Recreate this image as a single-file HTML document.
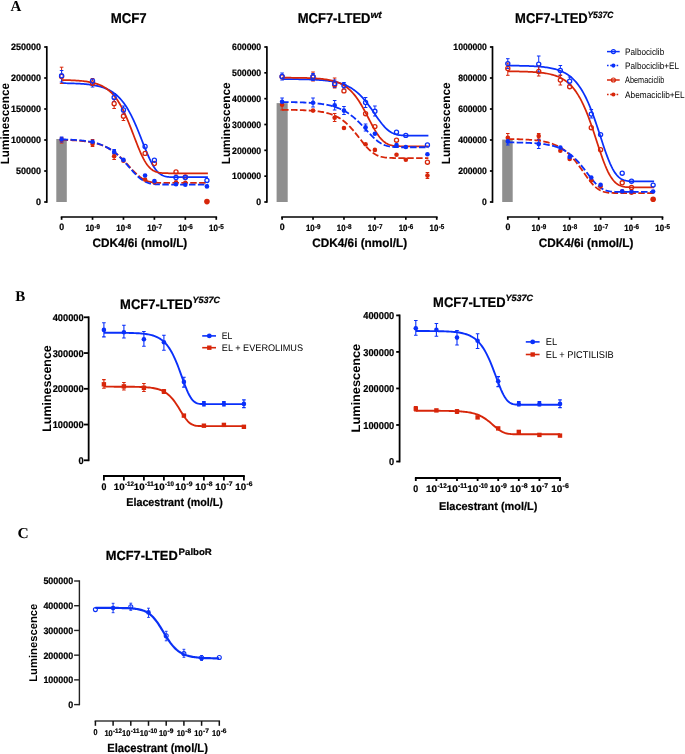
<!DOCTYPE html>
<html><head><meta charset="utf-8"><style>
html,body{margin:0;padding:0;background:#fff;}
body{width:685px;height:754px;overflow:hidden;font-family:"Liberation Sans",sans-serif;}
svg{display:block;will-change:transform;}
</style></head><body>
<svg width="685" height="754" viewBox="0 0 685 754" text-rendering="geometricPrecision">
<rect width="685" height="754" fill="#fff"/>
<text x="10.6" y="11.2" font-size="15" font-weight="bold" font-family='"Liberation Serif", serif' text-anchor="start" fill="#000">A</text>
<text x="15.3" y="301.2" font-size="15" font-weight="bold" font-family='"Liberation Serif", serif' text-anchor="start" fill="#000">B</text>
<text x="17.6" y="538" font-size="15" font-weight="bold" font-family='"Liberation Serif", serif' text-anchor="start" fill="#000" textLength="11.2" lengthAdjust="spacingAndGlyphs">C</text>
<text x="110.7" y="23.2" font-size="14.2" font-weight="bold" font-family='"Liberation Sans", sans-serif' text-anchor="start" fill="#000" textLength="36" lengthAdjust="spacingAndGlyphs" stroke="#000" stroke-width="0.22">MCF7</text>
<text x="297.7" y="23.3" font-size="14.2" font-weight="bold" font-family='"Liberation Sans", sans-serif' text-anchor="start" fill="#000" textLength="72.8" lengthAdjust="spacingAndGlyphs" stroke="#000" stroke-width="0.22">MCF7-LTED</text>
<text x="370.4" y="17.6" font-size="9.6" font-weight="bold" font-family='"Liberation Sans", sans-serif' text-anchor="start" fill="#000" textLength="11.4" lengthAdjust="spacingAndGlyphs" font-style="italic" stroke="#000" stroke-width="0.22">wt</text>
<text x="515.1" y="23.3" font-size="14.2" font-weight="bold" font-family='"Liberation Sans", sans-serif' text-anchor="start" fill="#000" textLength="72.6" lengthAdjust="spacingAndGlyphs" stroke="#000" stroke-width="0.22">MCF7-LTED</text>
<text x="587.4" y="17.7" font-size="9.2" font-weight="bold" font-family='"Liberation Sans", sans-serif' text-anchor="start" fill="#000" textLength="25.9" lengthAdjust="spacingAndGlyphs" font-style="italic" stroke="#000" stroke-width="0.22">Y537C</text>
<rect x="56.3" y="139" width="10.5" height="63" fill="#8f8f8f"/>
<path d="M46.8 46.15V202.85" stroke="#000" stroke-width="1.7" fill="none"/>
<path d="M44.2 202H46.8" stroke="#000" stroke-width="1.7"/>
<text x="41.1" y="205.31" font-size="9.2" font-weight="bold" font-family='"Liberation Sans", sans-serif' text-anchor="end" fill="#000" textLength="5" lengthAdjust="spacingAndGlyphs" stroke="#000" stroke-width="0.22">0</text>
<path d="M44.2 171H46.8" stroke="#000" stroke-width="1.7"/>
<text x="41.1" y="174.31" font-size="9.2" font-weight="bold" font-family='"Liberation Sans", sans-serif' text-anchor="end" fill="#000" textLength="25" lengthAdjust="spacingAndGlyphs" stroke="#000" stroke-width="0.22">50000</text>
<path d="M44.2 140H46.8" stroke="#000" stroke-width="1.7"/>
<text x="41.1" y="143.31" font-size="9.2" font-weight="bold" font-family='"Liberation Sans", sans-serif' text-anchor="end" fill="#000" textLength="30" lengthAdjust="spacingAndGlyphs" stroke="#000" stroke-width="0.22">100000</text>
<path d="M44.2 109H46.8" stroke="#000" stroke-width="1.7"/>
<text x="41.1" y="112.31" font-size="9.2" font-weight="bold" font-family='"Liberation Sans", sans-serif' text-anchor="end" fill="#000" textLength="30" lengthAdjust="spacingAndGlyphs" stroke="#000" stroke-width="0.22">150000</text>
<path d="M44.2 78H46.8" stroke="#000" stroke-width="1.7"/>
<text x="41.1" y="81.31" font-size="9.2" font-weight="bold" font-family='"Liberation Sans", sans-serif' text-anchor="end" fill="#000" textLength="30" lengthAdjust="spacingAndGlyphs" stroke="#000" stroke-width="0.22">200000</text>
<path d="M44.2 47H46.8" stroke="#000" stroke-width="1.7"/>
<text x="41.1" y="50.31" font-size="9.2" font-weight="bold" font-family='"Liberation Sans", sans-serif' text-anchor="end" fill="#000" textLength="30" lengthAdjust="spacingAndGlyphs" stroke="#000" stroke-width="0.22">250000</text>
<path d="M60.75 217H217.1" stroke="#000" stroke-width="1.7" fill="none"/>
<path d="M61.6 217V219.8" stroke="#000" stroke-width="1.7"/>
<path d="M92.53 217V219.8" stroke="#000" stroke-width="1.7"/>
<path d="M123.46 217V219.8" stroke="#000" stroke-width="1.7"/>
<path d="M154.39 217V219.8" stroke="#000" stroke-width="1.7"/>
<path d="M185.32 217V219.8" stroke="#000" stroke-width="1.7"/>
<path d="M216.25 217V219.8" stroke="#000" stroke-width="1.7"/>
<text x="61.8" y="230.4" font-size="9.2" font-weight="bold" font-family='"Liberation Sans", sans-serif' text-anchor="middle" fill="#000" textLength="4.9" lengthAdjust="spacingAndGlyphs" stroke="#000" stroke-width="0.22">0</text>
<text x="85.38" y="231.3" font-size="9.0" font-weight="bold" font-family='"Liberation Sans", sans-serif' text-anchor="start" fill="#000" textLength="8.8" lengthAdjust="spacingAndGlyphs" stroke="#000" stroke-width="0.22">10</text>
<text x="94.48" y="228.5" font-size="7.0" font-weight="bold" font-family='"Liberation Sans", sans-serif' text-anchor="start" fill="#000" textLength="5.6" lengthAdjust="spacingAndGlyphs" stroke="#000" stroke-width="0.22">-9</text>
<text x="116.31" y="231.3" font-size="9.0" font-weight="bold" font-family='"Liberation Sans", sans-serif' text-anchor="start" fill="#000" textLength="8.8" lengthAdjust="spacingAndGlyphs" stroke="#000" stroke-width="0.22">10</text>
<text x="125.41" y="228.5" font-size="7.0" font-weight="bold" font-family='"Liberation Sans", sans-serif' text-anchor="start" fill="#000" textLength="5.6" lengthAdjust="spacingAndGlyphs" stroke="#000" stroke-width="0.22">-8</text>
<text x="147.24" y="231.3" font-size="9.0" font-weight="bold" font-family='"Liberation Sans", sans-serif' text-anchor="start" fill="#000" textLength="8.8" lengthAdjust="spacingAndGlyphs" stroke="#000" stroke-width="0.22">10</text>
<text x="156.34" y="228.5" font-size="7.0" font-weight="bold" font-family='"Liberation Sans", sans-serif' text-anchor="start" fill="#000" textLength="5.6" lengthAdjust="spacingAndGlyphs" stroke="#000" stroke-width="0.22">-7</text>
<text x="178.17" y="231.3" font-size="9.0" font-weight="bold" font-family='"Liberation Sans", sans-serif' text-anchor="start" fill="#000" textLength="8.8" lengthAdjust="spacingAndGlyphs" stroke="#000" stroke-width="0.22">10</text>
<text x="187.27" y="228.5" font-size="7.0" font-weight="bold" font-family='"Liberation Sans", sans-serif' text-anchor="start" fill="#000" textLength="5.6" lengthAdjust="spacingAndGlyphs" stroke="#000" stroke-width="0.22">-6</text>
<text x="209.1" y="231.3" font-size="9.0" font-weight="bold" font-family='"Liberation Sans", sans-serif' text-anchor="start" fill="#000" textLength="8.8" lengthAdjust="spacingAndGlyphs" stroke="#000" stroke-width="0.22">10</text>
<text x="218.2" y="228.5" font-size="7.0" font-weight="bold" font-family='"Liberation Sans", sans-serif' text-anchor="start" fill="#000" textLength="5.6" lengthAdjust="spacingAndGlyphs" stroke="#000" stroke-width="0.22">-5</text>
<text x="92.5" y="247.3" font-size="12.2" font-weight="bold" font-family='"Liberation Sans", sans-serif' text-anchor="start" fill="#000" textLength="94.8" lengthAdjust="spacingAndGlyphs" stroke="#000" stroke-width="0.22">CDK4/6i (nmol/L)</text>
<text transform="translate(8.7 123.7) rotate(-90)" x="0" y="0" font-size="12" font-weight="bold" font-family='"Liberation Sans", sans-serif' text-anchor="middle" textLength="81.2" lengthAdjust="spacingAndGlyphs">Luminescence</text>
<path d="M61.6 83.16 L62.82 83.18 L64.04 83.2 L65.26 83.22 L66.48 83.25 L67.7 83.28 L68.91 83.3 L70.13 83.34 L71.35 83.37 L72.57 83.41 L73.79 83.46 L75.01 83.5 L76.23 83.55 L77.45 83.61 L78.67 83.67 L79.89 83.74 L81.11 83.82 L82.33 83.9 L83.54 83.99 L84.76 84.09 L85.98 84.2 L87.2 84.32 L88.42 84.45 L89.64 84.6 L90.86 84.76 L92.08 84.93 L93.3 85.12 L94.52 85.33 L95.74 85.56 L96.96 85.81 L98.17 86.08 L99.39 86.38 L100.61 86.71 L101.83 87.07 L103.05 87.46 L104.27 87.89 L105.49 88.36 L106.71 88.88 L107.93 89.44 L109.15 90.05 L110.37 90.71 L111.59 91.44 L112.8 92.23 L114.02 93.09 L115.24 94.02 L116.46 95.03 L117.68 96.12 L118.9 97.31 L120.12 98.59 L121.34 99.96 L122.56 101.45 L123.78 103.05 L125 104.76 L126.22 106.58 L127.43 108.54 L128.65 110.61 L129.87 112.81 L131.09 115.14 L132.31 117.59 L133.53 120.16 L134.75 122.85 L135.97 125.64 L137.19 128.52 L138.41 131.49 L139.63 134.52 L140.85 137.6 L142.06 140.7 L143.28 143.81 L144.5 146.89 L145.72 149.92 L146.94 152.87 L148.16 155.71 L149.38 158.42 L150.6 160.97 L151.82 163.34 L153.04 165.52 L154.26 167.49 L155.48 169.24 L156.69 170.77 L157.91 172.09 L159.13 173.21 L160.35 174.14 L161.57 174.9 L162.79 175.5 L164.01 175.97 L165.23 176.33 L166.45 176.6 L167.67 176.79 L168.89 176.93 L170.11 177.03 L171.32 177.1 L172.54 177.14 L173.76 177.17 L174.98 177.19 L176.2 177.2 L177.42 177.21 L178.64 177.21 L179.86 177.21 L181.08 177.21 L182.3 177.21 L183.52 177.21 L184.73 177.21 L185.95 177.21 L187.17 177.21 L188.39 177.21 L189.61 177.21 L190.83 177.21 L192.05 177.21 L193.27 177.21 L194.49 177.21 L195.71 177.21 L196.93 177.21 L198.15 177.21 L199.36 177.21 L200.58 177.21 L201.8 177.21 L203.02 177.21 L204.24 177.21 L205.46 177.21 L206.68 177.21 L207.9 177.21" fill="none" stroke="#0a30fa" stroke-width="1.75"/>
<path d="M61.6 80 L62.82 80.02 L64.04 80.05 L65.26 80.07 L66.48 80.11 L67.7 80.14 L68.91 80.18 L70.13 80.22 L71.35 80.27 L72.57 80.32 L73.79 80.38 L75.01 80.44 L76.23 80.51 L77.45 80.59 L78.67 80.68 L79.89 80.78 L81.11 80.88 L82.33 81 L83.54 81.13 L84.76 81.28 L85.98 81.44 L87.2 81.61 L88.42 81.81 L89.64 82.02 L90.86 82.26 L92.08 82.53 L93.3 82.82 L94.52 83.14 L95.74 83.49 L96.96 83.88 L98.17 84.31 L99.39 84.79 L100.61 85.31 L101.83 85.88 L103.05 86.51 L104.27 87.21 L105.49 87.97 L106.71 88.8 L107.93 89.71 L109.15 90.71 L110.37 91.79 L111.59 92.98 L112.8 94.26 L114.02 95.66 L115.24 97.18 L116.46 98.82 L117.68 100.58 L118.9 102.48 L120.12 104.51 L121.34 106.68 L122.56 109 L123.78 111.44 L125 114.03 L126.22 116.74 L127.43 119.57 L128.65 122.52 L129.87 125.55 L131.09 128.67 L132.31 131.84 L133.53 135.04 L134.75 138.24 L135.97 141.42 L137.19 144.55 L138.41 147.59 L139.63 150.53 L140.85 153.32 L142.06 155.94 L143.28 158.38 L144.5 160.62 L145.72 162.65 L146.94 164.45 L148.16 166.04 L149.38 167.42 L150.6 168.59 L151.82 169.58 L153.04 170.4 L154.26 171.06 L155.48 171.6 L156.69 172.02 L157.91 172.35 L159.13 172.6 L160.35 172.79 L161.57 172.94 L162.79 173.04 L164.01 173.12 L165.23 173.17 L166.45 173.21 L167.67 173.24 L168.89 173.26 L170.11 173.27 L171.32 173.28 L172.54 173.29 L173.76 173.29 L174.98 173.29 L176.2 173.29 L177.42 173.29 L178.64 173.3 L179.86 173.3 L181.08 173.3 L182.3 173.3 L183.52 173.3 L184.73 173.3 L185.95 173.3 L187.17 173.3 L188.39 173.3 L189.61 173.3 L190.83 173.3 L192.05 173.3 L193.27 173.3 L194.49 173.3 L195.71 173.3 L196.93 173.3 L198.15 173.3 L199.36 173.3 L200.58 173.3 L201.8 173.3 L203.02 173.3 L204.24 173.3 L205.46 173.3 L206.68 173.3 L207.9 173.3" fill="none" stroke="#d7260a" stroke-width="1.75"/>
<path d="M61.6 139.84 L62.82 139.87 L64.04 139.9 L65.26 139.94 L66.48 139.98 L67.7 140.02 L68.91 140.07 L70.13 140.12 L71.35 140.18 L72.57 140.24 L73.79 140.31 L75.01 140.38 L76.23 140.46 L77.45 140.55 L78.67 140.64 L79.89 140.75 L81.11 140.86 L82.33 140.98 L83.54 141.11 L84.76 141.26 L85.98 141.41 L87.2 141.59 L88.42 141.77 L89.64 141.97 L90.86 142.19 L92.08 142.43 L93.3 142.69 L94.52 142.97 L95.74 143.27 L96.96 143.6 L98.17 143.95 L99.39 144.33 L100.61 144.74 L101.83 145.19 L103.05 145.67 L104.27 146.18 L105.49 146.74 L106.71 147.33 L107.93 147.97 L109.15 148.65 L110.37 149.37 L111.59 150.14 L112.8 150.97 L114.02 151.84 L115.24 152.76 L116.46 153.73 L117.68 154.75 L118.9 155.82 L120.12 156.94 L121.34 158.1 L122.56 159.31 L123.78 160.55 L125 161.82 L126.22 163.12 L127.43 164.44 L128.65 165.78 L129.87 167.11 L131.09 168.44 L132.31 169.75 L133.53 171.03 L134.75 172.27 L135.97 173.47 L137.19 174.61 L138.41 175.69 L139.63 176.69 L140.85 177.61 L142.06 178.45 L143.28 179.2 L144.5 179.87 L145.72 180.45 L146.94 180.94 L148.16 181.36 L149.38 181.71 L150.6 182 L151.82 182.22 L153.04 182.4 L154.26 182.54 L155.48 182.64 L156.69 182.72 L157.91 182.78 L159.13 182.82 L160.35 182.85 L161.57 182.87 L162.79 182.88 L164.01 182.89 L165.23 182.89 L166.45 182.9 L167.67 182.9 L168.89 182.9 L170.11 182.9 L171.32 182.9 L172.54 182.9 L173.76 182.9 L174.98 182.9 L176.2 182.9 L177.42 182.9 L178.64 182.9 L179.86 182.9 L181.08 182.9 L182.3 182.9 L183.52 182.9 L184.73 182.9 L185.95 182.9 L187.17 182.9 L188.39 182.9 L189.61 182.9 L190.83 182.9 L192.05 182.9 L193.27 182.9 L194.49 182.9 L195.71 182.9 L196.93 182.9 L198.15 182.9 L199.36 182.9 L200.58 182.9 L201.8 182.9 L203.02 182.9 L204.24 182.9 L205.46 182.9 L206.68 182.9 L207.9 182.9" fill="none" stroke="#d7260a" stroke-width="1.8" stroke-dasharray="6.5 2.4"/>
<path d="M61.6 139.38 L62.82 139.41 L64.04 139.45 L65.26 139.49 L66.48 139.53 L67.7 139.58 L68.91 139.63 L70.13 139.68 L71.35 139.74 L72.57 139.8 L73.79 139.87 L75.01 139.95 L76.23 140.03 L77.45 140.13 L78.67 140.22 L79.89 140.33 L81.11 140.45 L82.33 140.58 L83.54 140.72 L84.76 140.87 L85.98 141.03 L87.2 141.21 L88.42 141.41 L89.64 141.62 L90.86 141.85 L92.08 142.1 L93.3 142.37 L94.52 142.66 L95.74 142.98 L96.96 143.32 L98.17 143.69 L99.39 144.09 L100.61 144.52 L101.83 144.99 L103.05 145.49 L104.27 146.03 L105.49 146.61 L106.71 147.24 L107.93 147.9 L109.15 148.62 L110.37 149.38 L111.59 150.19 L112.8 151.05 L114.02 151.96 L115.24 152.93 L116.46 153.95 L117.68 155.02 L118.9 156.14 L120.12 157.31 L121.34 158.53 L122.56 159.79 L123.78 161.1 L125 162.43 L126.22 163.79 L127.43 165.18 L128.65 166.57 L129.87 167.97 L131.09 169.36 L132.31 170.74 L133.53 172.08 L134.75 173.39 L135.97 174.64 L137.19 175.84 L138.41 176.97 L139.63 178.02 L140.85 178.98 L142.06 179.86 L143.28 180.65 L144.5 181.35 L145.72 181.95 L146.94 182.48 L148.16 182.92 L149.38 183.28 L150.6 183.58 L151.82 183.82 L153.04 184 L154.26 184.15 L155.48 184.26 L156.69 184.34 L157.91 184.4 L159.13 184.44 L160.35 184.47 L161.57 184.49 L162.79 184.5 L164.01 184.51 L165.23 184.52 L166.45 184.52 L167.67 184.52 L168.89 184.53 L170.11 184.53 L171.32 184.53 L172.54 184.53 L173.76 184.53 L174.98 184.53 L176.2 184.53 L177.42 184.53 L178.64 184.53 L179.86 184.53 L181.08 184.53 L182.3 184.53 L183.52 184.53 L184.73 184.53 L185.95 184.53 L187.17 184.53 L188.39 184.53 L189.61 184.53 L190.83 184.53 L192.05 184.53 L193.27 184.53 L194.49 184.53 L195.71 184.53 L196.93 184.53 L198.15 184.53 L199.36 184.53 L200.58 184.53 L201.8 184.53 L203.02 184.53 L204.24 184.53 L205.46 184.53 L206.68 184.53 L207.9 184.53" fill="none" stroke="#0a30fa" stroke-width="1.8" stroke-dasharray="6.5 2.4"/>
<path d="M61.6 67.2V74.45 M59.8 67.2h3.6" stroke="#d7260a" stroke-width="1.0" fill="none"/>
<path d="M61.6 78.55V83.4 M59.8 83.4h3.6" stroke="#d7260a" stroke-width="1.0" fill="none"/>
<path d="M61.6 70.5V73.75 M59.8 70.5h3.6" stroke="#0a30fa" stroke-width="1.0" fill="none"/>
<path d="M61.6 77.85V82 M59.8 82h3.6" stroke="#0a30fa" stroke-width="1.0" fill="none"/>
<path d="M92.53 78.5V80.95 M90.73 78.5h3.6" stroke="#d7260a" stroke-width="1.0" fill="none"/>
<path d="M92.53 85.05V85.5 M90.73 85.5h3.6" stroke="#d7260a" stroke-width="1.0" fill="none"/>
<path d="M92.53 83.05V87 M90.73 87h3.6" stroke="#0a30fa" stroke-width="1.0" fill="none"/>
<path d="M114.15 93.5V95.35 M112.35 93.5h3.6" stroke="#0a30fa" stroke-width="1.0" fill="none"/>
<path d="M114.15 99.45V101.5 M112.35 101.5h3.6" stroke="#0a30fa" stroke-width="1.0" fill="none"/>
<path d="M114.15 99V101.65 M112.35 99h3.6" stroke="#d7260a" stroke-width="1.0" fill="none"/>
<path d="M114.15 105.75V108.5 M112.35 108.5h3.6" stroke="#d7260a" stroke-width="1.0" fill="none"/>
<path d="M123.46 106V107.95 M121.66 106h3.6" stroke="#0a30fa" stroke-width="1.0" fill="none"/>
<path d="M123.46 112.05V114 M121.66 114h3.6" stroke="#0a30fa" stroke-width="1.0" fill="none"/>
<path d="M123.46 112V114.15 M121.66 112h3.6" stroke="#d7260a" stroke-width="1.0" fill="none"/>
<path d="M123.46 118.25V120.5 M121.66 120.5h3.6" stroke="#d7260a" stroke-width="1.0" fill="none"/>
<path d="M61.6 137.5V143 M59.8 137.5h3.6 M59.8 143h3.6" stroke="#d7260a" stroke-width="1.0" fill="none"/>
<path d="M61.6 137V142 M59.8 137h3.6 M59.8 142h3.6" stroke="#0a30fa" stroke-width="1.0" fill="none"/>
<path d="M92.53 139.5V146.5 M90.73 139.5h3.6 M90.73 146.5h3.6" stroke="#d7260a" stroke-width="1.0" fill="none"/>
<path d="M114.15 149.5V154 M112.35 149.5h3.6 M112.35 154h3.6" stroke="#0a30fa" stroke-width="1.0" fill="none"/>
<path d="M114.15 153.5V159.5 M112.35 153.5h3.6 M112.35 159.5h3.6" stroke="#d7260a" stroke-width="1.0" fill="none"/>
<circle cx="61.6" cy="140" r="2.3" fill="#d7260a"/>
<circle cx="92.53" cy="143.9" r="2.3" fill="#d7260a"/>
<circle cx="114.15" cy="156.3" r="2.3" fill="#d7260a"/>
<circle cx="123.46" cy="160.7" r="2.3" fill="#d7260a"/>
<circle cx="145.08" cy="179.6" r="2.3" fill="#d7260a"/>
<circle cx="154.39" cy="182.3" r="2.3" fill="#d7260a"/>
<circle cx="176.01" cy="182.3" r="2.3" fill="#d7260a"/>
<circle cx="185.32" cy="182.8" r="2.3" fill="#d7260a"/>
<circle cx="206.94" cy="201.6" r="2.8" fill="#d7260a"/>
<circle cx="61.6" cy="139.5" r="2.3" fill="#0a30fa"/>
<circle cx="92.53" cy="141.7" r="2.3" fill="#0a30fa"/>
<circle cx="114.15" cy="151.9" r="2.3" fill="#0a30fa"/>
<circle cx="123.46" cy="159.9" r="2.3" fill="#0a30fa"/>
<circle cx="145.08" cy="175.5" r="2.3" fill="#0a30fa"/>
<circle cx="154.39" cy="181.1" r="2.3" fill="#0a30fa"/>
<circle cx="176.01" cy="184.3" r="2.3" fill="#0a30fa"/>
<circle cx="185.32" cy="184.7" r="2.3" fill="#0a30fa"/>
<circle cx="206.94" cy="186.4" r="2.3" fill="#0a30fa"/>
<circle cx="61.6" cy="76.5" r="2.05" fill="none" stroke="#d7260a" stroke-width="1.3"/>
<circle cx="92.53" cy="83" r="2.05" fill="none" stroke="#d7260a" stroke-width="1.3"/>
<circle cx="114.15" cy="103.7" r="2.05" fill="none" stroke="#d7260a" stroke-width="1.3"/>
<circle cx="123.46" cy="116.2" r="2.05" fill="none" stroke="#d7260a" stroke-width="1.3"/>
<circle cx="145.08" cy="153.4" r="2.05" fill="none" stroke="#d7260a" stroke-width="1.3"/>
<circle cx="154.39" cy="163.5" r="2.05" fill="none" stroke="#d7260a" stroke-width="1.3"/>
<circle cx="176.01" cy="171.9" r="2.05" fill="none" stroke="#d7260a" stroke-width="1.3"/>
<circle cx="185.32" cy="177" r="2.05" fill="none" stroke="#d7260a" stroke-width="1.3"/>
<circle cx="61.6" cy="75.8" r="2.05" fill="none" stroke="#0a30fa" stroke-width="1.3"/>
<circle cx="92.53" cy="81" r="2.05" fill="none" stroke="#0a30fa" stroke-width="1.3"/>
<circle cx="114.15" cy="97.4" r="2.05" fill="none" stroke="#0a30fa" stroke-width="1.3"/>
<circle cx="123.46" cy="110" r="2.05" fill="none" stroke="#0a30fa" stroke-width="1.3"/>
<circle cx="145.08" cy="146.5" r="2.05" fill="none" stroke="#0a30fa" stroke-width="1.3"/>
<circle cx="154.39" cy="160.2" r="2.05" fill="none" stroke="#0a30fa" stroke-width="1.3"/>
<circle cx="176.01" cy="177.5" r="2.05" fill="none" stroke="#0a30fa" stroke-width="1.3"/>
<circle cx="185.32" cy="177.5" r="2.05" fill="none" stroke="#0a30fa" stroke-width="1.3"/>
<circle cx="206.94" cy="180.4" r="2.05" fill="none" stroke="#0a30fa" stroke-width="1.3"/>
<rect x="276.6" y="103.1" width="11.1" height="98.9" fill="#8f8f8f"/>
<path d="M266.9 46.15V202.85" stroke="#000" stroke-width="1.7" fill="none"/>
<path d="M264.3 202H266.9" stroke="#000" stroke-width="1.7"/>
<text x="261.2" y="205.31" font-size="9.2" font-weight="bold" font-family='"Liberation Sans", sans-serif' text-anchor="end" fill="#000" textLength="4.85" lengthAdjust="spacingAndGlyphs" stroke="#000" stroke-width="0.22">0</text>
<path d="M264.3 176.17H266.9" stroke="#000" stroke-width="1.7"/>
<text x="261.2" y="179.48" font-size="9.2" font-weight="bold" font-family='"Liberation Sans", sans-serif' text-anchor="end" fill="#000" textLength="29.1" lengthAdjust="spacingAndGlyphs" stroke="#000" stroke-width="0.22">100000</text>
<path d="M264.3 150.33H266.9" stroke="#000" stroke-width="1.7"/>
<text x="261.2" y="153.65" font-size="9.2" font-weight="bold" font-family='"Liberation Sans", sans-serif' text-anchor="end" fill="#000" textLength="29.1" lengthAdjust="spacingAndGlyphs" stroke="#000" stroke-width="0.22">200000</text>
<path d="M264.3 124.5H266.9" stroke="#000" stroke-width="1.7"/>
<text x="261.2" y="127.81" font-size="9.2" font-weight="bold" font-family='"Liberation Sans", sans-serif' text-anchor="end" fill="#000" textLength="29.1" lengthAdjust="spacingAndGlyphs" stroke="#000" stroke-width="0.22">300000</text>
<path d="M264.3 98.67H266.9" stroke="#000" stroke-width="1.7"/>
<text x="261.2" y="101.98" font-size="9.2" font-weight="bold" font-family='"Liberation Sans", sans-serif' text-anchor="end" fill="#000" textLength="29.1" lengthAdjust="spacingAndGlyphs" stroke="#000" stroke-width="0.22">400000</text>
<path d="M264.3 72.83H266.9" stroke="#000" stroke-width="1.7"/>
<text x="261.2" y="76.15" font-size="9.2" font-weight="bold" font-family='"Liberation Sans", sans-serif' text-anchor="end" fill="#000" textLength="29.1" lengthAdjust="spacingAndGlyphs" stroke="#000" stroke-width="0.22">500000</text>
<path d="M264.3 47H266.9" stroke="#000" stroke-width="1.7"/>
<text x="261.2" y="50.31" font-size="9.2" font-weight="bold" font-family='"Liberation Sans", sans-serif' text-anchor="end" fill="#000" textLength="29.1" lengthAdjust="spacingAndGlyphs" stroke="#000" stroke-width="0.22">600000</text>
<path d="M281.25 217H437.6" stroke="#000" stroke-width="1.7" fill="none"/>
<path d="M282.1 217V219.8" stroke="#000" stroke-width="1.7"/>
<path d="M313.03 217V219.8" stroke="#000" stroke-width="1.7"/>
<path d="M343.96 217V219.8" stroke="#000" stroke-width="1.7"/>
<path d="M374.89 217V219.8" stroke="#000" stroke-width="1.7"/>
<path d="M405.82 217V219.8" stroke="#000" stroke-width="1.7"/>
<path d="M436.75 217V219.8" stroke="#000" stroke-width="1.7"/>
<text x="282.3" y="230.4" font-size="9.2" font-weight="bold" font-family='"Liberation Sans", sans-serif' text-anchor="middle" fill="#000" textLength="4.9" lengthAdjust="spacingAndGlyphs" stroke="#000" stroke-width="0.22">0</text>
<text x="305.88" y="231.3" font-size="9.0" font-weight="bold" font-family='"Liberation Sans", sans-serif' text-anchor="start" fill="#000" textLength="8.8" lengthAdjust="spacingAndGlyphs" stroke="#000" stroke-width="0.22">10</text>
<text x="314.98" y="228.5" font-size="7.0" font-weight="bold" font-family='"Liberation Sans", sans-serif' text-anchor="start" fill="#000" textLength="5.6" lengthAdjust="spacingAndGlyphs" stroke="#000" stroke-width="0.22">-9</text>
<text x="336.81" y="231.3" font-size="9.0" font-weight="bold" font-family='"Liberation Sans", sans-serif' text-anchor="start" fill="#000" textLength="8.8" lengthAdjust="spacingAndGlyphs" stroke="#000" stroke-width="0.22">10</text>
<text x="345.91" y="228.5" font-size="7.0" font-weight="bold" font-family='"Liberation Sans", sans-serif' text-anchor="start" fill="#000" textLength="5.6" lengthAdjust="spacingAndGlyphs" stroke="#000" stroke-width="0.22">-8</text>
<text x="367.74" y="231.3" font-size="9.0" font-weight="bold" font-family='"Liberation Sans", sans-serif' text-anchor="start" fill="#000" textLength="8.8" lengthAdjust="spacingAndGlyphs" stroke="#000" stroke-width="0.22">10</text>
<text x="376.84" y="228.5" font-size="7.0" font-weight="bold" font-family='"Liberation Sans", sans-serif' text-anchor="start" fill="#000" textLength="5.6" lengthAdjust="spacingAndGlyphs" stroke="#000" stroke-width="0.22">-7</text>
<text x="398.67" y="231.3" font-size="9.0" font-weight="bold" font-family='"Liberation Sans", sans-serif' text-anchor="start" fill="#000" textLength="8.8" lengthAdjust="spacingAndGlyphs" stroke="#000" stroke-width="0.22">10</text>
<text x="407.77" y="228.5" font-size="7.0" font-weight="bold" font-family='"Liberation Sans", sans-serif' text-anchor="start" fill="#000" textLength="5.6" lengthAdjust="spacingAndGlyphs" stroke="#000" stroke-width="0.22">-6</text>
<text x="429.6" y="231.3" font-size="9.0" font-weight="bold" font-family='"Liberation Sans", sans-serif' text-anchor="start" fill="#000" textLength="8.8" lengthAdjust="spacingAndGlyphs" stroke="#000" stroke-width="0.22">10</text>
<text x="438.7" y="228.5" font-size="7.0" font-weight="bold" font-family='"Liberation Sans", sans-serif' text-anchor="start" fill="#000" textLength="5.6" lengthAdjust="spacingAndGlyphs" stroke="#000" stroke-width="0.22">-5</text>
<text x="312.3" y="247.3" font-size="12.2" font-weight="bold" font-family='"Liberation Sans", sans-serif' text-anchor="start" fill="#000" textLength="94.8" lengthAdjust="spacingAndGlyphs" stroke="#000" stroke-width="0.22">CDK4/6i (nmol/L)</text>
<text transform="translate(229.7 123.4) rotate(-90)" x="0" y="0" font-size="12" font-weight="bold" font-family='"Liberation Sans", sans-serif' text-anchor="middle" textLength="81.8" lengthAdjust="spacingAndGlyphs">Luminescence</text>
<path d="M282.1 79.11 L283.32 79.11 L284.54 79.12 L285.76 79.13 L286.98 79.13 L288.2 79.14 L289.41 79.15 L290.63 79.16 L291.85 79.17 L293.07 79.18 L294.29 79.19 L295.51 79.21 L296.73 79.22 L297.95 79.24 L299.17 79.26 L300.39 79.28 L301.61 79.3 L302.83 79.32 L304.04 79.35 L305.26 79.38 L306.48 79.41 L307.7 79.44 L308.92 79.48 L310.14 79.52 L311.36 79.56 L312.58 79.61 L313.8 79.66 L315.02 79.72 L316.24 79.78 L317.46 79.85 L318.67 79.93 L319.89 80.01 L321.11 80.1 L322.33 80.2 L323.55 80.3 L324.77 80.42 L325.99 80.55 L327.21 80.69 L328.43 80.84 L329.65 81.01 L330.87 81.19 L332.09 81.39 L333.3 81.61 L334.52 81.84 L335.74 82.1 L336.96 82.38 L338.18 82.69 L339.4 83.02 L340.62 83.38 L341.84 83.77 L343.06 84.2 L344.28 84.66 L345.5 85.16 L346.72 85.7 L347.93 86.28 L349.15 86.91 L350.37 87.6 L351.59 88.33 L352.81 89.12 L354.03 89.96 L355.25 90.87 L356.47 91.84 L357.69 92.88 L358.91 93.98 L360.13 95.15 L361.35 96.39 L362.56 97.7 L363.78 99.07 L365 100.52 L366.22 102.02 L367.44 103.59 L368.66 105.21 L369.88 106.88 L371.1 108.59 L372.32 110.34 L373.54 112.1 L374.76 113.87 L375.98 115.65 L377.19 117.4 L378.41 119.13 L379.63 120.81 L380.85 122.43 L382.07 123.98 L383.29 125.44 L384.51 126.82 L385.73 128.08 L386.95 129.24 L388.17 130.28 L389.39 131.21 L390.61 132.02 L391.82 132.72 L393.04 133.32 L394.26 133.82 L395.48 134.23 L396.7 134.57 L397.92 134.83 L399.14 135.04 L400.36 135.2 L401.58 135.32 L402.8 135.41 L404.02 135.48 L405.23 135.53 L406.45 135.56 L407.67 135.58 L408.89 135.6 L410.11 135.61 L411.33 135.62 L412.55 135.62 L413.77 135.62 L414.99 135.63 L416.21 135.63 L417.43 135.63 L418.65 135.63 L419.86 135.63 L421.08 135.63 L422.3 135.63 L423.52 135.63 L424.74 135.63 L425.96 135.63 L427.18 135.63 L428.4 135.63" fill="none" stroke="#0a30fa" stroke-width="1.75"/>
<path d="M282.1 77.69 L283.32 77.7 L284.54 77.7 L285.76 77.71 L286.98 77.71 L288.2 77.72 L289.41 77.73 L290.63 77.74 L291.85 77.75 L293.07 77.76 L294.29 77.77 L295.51 77.78 L296.73 77.8 L297.95 77.81 L299.17 77.83 L300.39 77.85 L301.61 77.87 L302.83 77.9 L304.04 77.93 L305.26 77.96 L306.48 77.99 L307.7 78.03 L308.92 78.07 L310.14 78.12 L311.36 78.17 L312.58 78.22 L313.8 78.29 L315.02 78.35 L316.24 78.43 L317.46 78.52 L318.67 78.61 L319.89 78.72 L321.11 78.83 L322.33 78.96 L323.55 79.1 L324.77 79.26 L325.99 79.43 L327.21 79.62 L328.43 79.83 L329.65 80.07 L330.87 80.33 L332.09 80.61 L333.3 80.93 L334.52 81.28 L335.74 81.66 L336.96 82.08 L338.18 82.54 L339.4 83.05 L340.62 83.61 L341.84 84.23 L343.06 84.9 L344.28 85.64 L345.5 86.44 L346.72 87.32 L347.93 88.27 L349.15 89.31 L350.37 90.43 L351.59 91.65 L352.81 92.96 L354.03 94.37 L355.25 95.88 L356.47 97.5 L357.69 99.21 L358.91 101.03 L360.13 102.95 L361.35 104.97 L362.56 107.07 L363.78 109.25 L365 111.5 L366.22 113.8 L367.44 116.14 L368.66 118.51 L369.88 120.87 L371.1 123.2 L372.32 125.5 L373.54 127.73 L374.76 129.87 L375.98 131.9 L377.19 133.81 L378.41 135.58 L379.63 137.2 L380.85 138.66 L382.07 139.96 L383.29 141.1 L384.51 142.09 L385.73 142.93 L386.95 143.64 L388.17 144.23 L389.39 144.71 L390.61 145.1 L391.82 145.4 L393.04 145.64 L394.26 145.83 L395.48 145.97 L396.7 146.07 L397.92 146.15 L399.14 146.21 L400.36 146.25 L401.58 146.28 L402.8 146.3 L404.02 146.32 L405.23 146.33 L406.45 146.34 L407.67 146.34 L408.89 146.35 L410.11 146.35 L411.33 146.35 L412.55 146.35 L413.77 146.35 L414.99 146.35 L416.21 146.35 L417.43 146.35 L418.65 146.35 L419.86 146.35 L421.08 146.35 L422.3 146.35 L423.52 146.35 L424.74 146.35 L425.96 146.35 L427.18 146.35 L428.4 146.35" fill="none" stroke="#d7260a" stroke-width="1.75"/>
<path d="M282.1 109.78 L283.32 109.79 L284.54 109.8 L285.76 109.81 L286.98 109.82 L288.2 109.84 L289.41 109.85 L290.63 109.87 L291.85 109.89 L293.07 109.91 L294.29 109.93 L295.51 109.96 L296.73 109.99 L297.95 110.02 L299.17 110.05 L300.39 110.09 L301.61 110.13 L302.83 110.18 L304.04 110.23 L305.26 110.28 L306.48 110.34 L307.7 110.41 L308.92 110.49 L310.14 110.57 L311.36 110.66 L312.58 110.76 L313.8 110.86 L315.02 110.98 L316.24 111.12 L317.46 111.26 L318.67 111.42 L319.89 111.6 L321.11 111.79 L322.33 112 L323.55 112.23 L324.77 112.48 L325.99 112.76 L327.21 113.07 L328.43 113.4 L329.65 113.76 L330.87 114.16 L332.09 114.59 L333.3 115.07 L334.52 115.58 L335.74 116.14 L336.96 116.74 L338.18 117.4 L339.4 118.11 L340.62 118.87 L341.84 119.69 L343.06 120.57 L344.28 121.52 L345.5 122.53 L346.72 123.6 L347.93 124.74 L349.15 125.94 L350.37 127.2 L351.59 128.53 L352.81 129.91 L354.03 131.34 L355.25 132.82 L356.47 134.33 L357.69 135.87 L358.91 137.43 L360.13 139 L361.35 140.56 L362.56 142.1 L363.78 143.61 L365 145.08 L366.22 146.49 L367.44 147.83 L368.66 149.1 L369.88 150.28 L371.1 151.36 L372.32 152.35 L373.54 153.24 L374.76 154.03 L375.98 154.73 L377.19 155.33 L378.41 155.85 L379.63 156.29 L380.85 156.66 L382.07 156.96 L383.29 157.21 L384.51 157.41 L385.73 157.57 L386.95 157.69 L388.17 157.79 L389.39 157.87 L390.61 157.93 L391.82 157.97 L393.04 158 L394.26 158.03 L395.48 158.05 L396.7 158.06 L397.92 158.07 L399.14 158.08 L400.36 158.08 L401.58 158.09 L402.8 158.09 L404.02 158.09 L405.23 158.09 L406.45 158.09 L407.67 158.09 L408.89 158.09 L410.11 158.09 L411.33 158.09 L412.55 158.09 L413.77 158.09 L414.99 158.09 L416.21 158.09 L417.43 158.09 L418.65 158.09 L419.86 158.09 L421.08 158.09 L422.3 158.09 L423.52 158.09 L424.74 158.09 L425.96 158.09 L427.18 158.09 L428.4 158.09" fill="none" stroke="#d7260a" stroke-width="1.8" stroke-dasharray="6.5 2.4"/>
<path d="M282.1 102.02 L283.32 102.04 L284.54 102.05 L285.76 102.06 L286.98 102.08 L288.2 102.1 L289.41 102.12 L290.63 102.14 L291.85 102.16 L293.07 102.18 L294.29 102.21 L295.51 102.24 L296.73 102.27 L297.95 102.3 L299.17 102.34 L300.39 102.38 L301.61 102.42 L302.83 102.47 L304.04 102.52 L305.26 102.57 L306.48 102.63 L307.7 102.7 L308.92 102.77 L310.14 102.84 L311.36 102.93 L312.58 103.02 L313.8 103.11 L315.02 103.22 L316.24 103.33 L317.46 103.46 L318.67 103.59 L319.89 103.74 L321.11 103.9 L322.33 104.07 L323.55 104.25 L324.77 104.45 L325.99 104.67 L327.21 104.9 L328.43 105.16 L329.65 105.43 L330.87 105.73 L332.09 106.04 L333.3 106.39 L334.52 106.76 L335.74 107.15 L336.96 107.58 L338.18 108.04 L339.4 108.53 L340.62 109.06 L341.84 109.63 L343.06 110.23 L344.28 110.88 L345.5 111.57 L346.72 112.3 L347.93 113.07 L349.15 113.9 L350.37 114.77 L351.59 115.69 L352.81 116.65 L354.03 117.67 L355.25 118.73 L356.47 119.83 L357.69 120.98 L358.91 122.17 L360.13 123.4 L361.35 124.66 L362.56 125.95 L363.78 127.26 L365 128.58 L366.22 129.91 L367.44 131.24 L368.66 132.57 L369.88 133.87 L371.1 135.14 L372.32 136.38 L373.54 137.56 L374.76 138.7 L375.98 139.77 L377.19 140.76 L378.41 141.69 L379.63 142.53 L380.85 143.29 L382.07 143.97 L383.29 144.56 L384.51 145.08 L385.73 145.52 L386.95 145.89 L388.17 146.2 L389.39 146.45 L390.61 146.65 L391.82 146.81 L393.04 146.93 L394.26 147.02 L395.48 147.09 L396.7 147.14 L397.92 147.18 L399.14 147.21 L400.36 147.22 L401.58 147.23 L402.8 147.24 L404.02 147.25 L405.23 147.25 L406.45 147.25 L407.67 147.25 L408.89 147.26 L410.11 147.26 L411.33 147.26 L412.55 147.26 L413.77 147.26 L414.99 147.26 L416.21 147.26 L417.43 147.26 L418.65 147.26 L419.86 147.26 L421.08 147.26 L422.3 147.26 L423.52 147.26 L424.74 147.26 L425.96 147.26 L427.18 147.26 L428.4 147.26" fill="none" stroke="#0a30fa" stroke-width="1.8" stroke-dasharray="6.5 2.4"/>
<path d="M282.1 73V74.35 M280.3 73h3.6" stroke="#0a30fa" stroke-width="1.0" fill="none"/>
<path d="M282.1 78.45V80 M280.3 80h3.6" stroke="#0a30fa" stroke-width="1.0" fill="none"/>
<path d="M313.03 72V74.75 M311.23 72h3.6" stroke="#d7260a" stroke-width="1.0" fill="none"/>
<path d="M313.03 78.85V81 M311.23 81h3.6" stroke="#d7260a" stroke-width="1.0" fill="none"/>
<path d="M313.03 73.5V74.75 M311.23 73.5h3.6" stroke="#0a30fa" stroke-width="1.0" fill="none"/>
<path d="M313.03 78.85V80.5 M311.23 80.5h3.6" stroke="#0a30fa" stroke-width="1.0" fill="none"/>
<path d="M334.65 78V82.65 M332.85 78h3.6" stroke="#d7260a" stroke-width="1.0" fill="none"/>
<path d="M334.65 86.75V88 M332.85 88h3.6" stroke="#d7260a" stroke-width="1.0" fill="none"/>
<path d="M334.65 80V81.55 M332.85 80h3.6" stroke="#0a30fa" stroke-width="1.0" fill="none"/>
<path d="M334.65 85.65V87.5 M332.85 87.5h3.6" stroke="#0a30fa" stroke-width="1.0" fill="none"/>
<path d="M343.96 82.5V83.55 M342.16 82.5h3.6" stroke="#0a30fa" stroke-width="1.0" fill="none"/>
<path d="M343.96 87.65V89 M342.16 89h3.6" stroke="#0a30fa" stroke-width="1.0" fill="none"/>
<path d="M282.1 98V105.5 M280.3 98h3.6 M280.3 105.5h3.6" stroke="#0a30fa" stroke-width="1.0" fill="none"/>
<path d="M282.1 101V110 M280.3 101h3.6 M280.3 110h3.6" stroke="#d7260a" stroke-width="1.0" fill="none"/>
<path d="M313.03 98V107 M311.23 98h3.6 M311.23 107h3.6" stroke="#0a30fa" stroke-width="1.0" fill="none"/>
<path d="M334.65 100.5V110 M332.85 100.5h3.6 M332.85 110h3.6" stroke="#0a30fa" stroke-width="1.0" fill="none"/>
<path d="M334.65 113.5V121.5 M332.85 113.5h3.6 M332.85 121.5h3.6" stroke="#d7260a" stroke-width="1.0" fill="none"/>
<path d="M343.96 106.5V114.5 M342.16 106.5h3.6 M342.16 114.5h3.6" stroke="#0a30fa" stroke-width="1.0" fill="none"/>
<path d="M365.58 97.5V100.45 M363.78 97.5h3.6" stroke="#0a30fa" stroke-width="1.0" fill="none"/>
<path d="M365.58 104.55V107.5 M363.78 107.5h3.6" stroke="#0a30fa" stroke-width="1.0" fill="none"/>
<path d="M374.89 106V109.25 M373.09 106h3.6" stroke="#0a30fa" stroke-width="1.0" fill="none"/>
<path d="M374.89 113.35V116 M373.09 116h3.6" stroke="#0a30fa" stroke-width="1.0" fill="none"/>
<path d="M365.58 124V131 M363.78 124h3.6 M363.78 131h3.6" stroke="#0a30fa" stroke-width="1.0" fill="none"/>
<path d="M427.44 172.5V178.5 M425.64 172.5h3.6 M425.64 178.5h3.6" stroke="#d7260a" stroke-width="1.0" fill="none"/>
<circle cx="282.1" cy="104.7" r="2.3" fill="#d7260a"/>
<circle cx="313.03" cy="110.6" r="2.3" fill="#d7260a"/>
<circle cx="334.65" cy="117.8" r="2.3" fill="#d7260a"/>
<circle cx="343.96" cy="128" r="2.3" fill="#d7260a"/>
<circle cx="365.58" cy="144.2" r="2.3" fill="#d7260a"/>
<circle cx="374.89" cy="149.9" r="2.3" fill="#d7260a"/>
<circle cx="396.51" cy="154.7" r="2.3" fill="#d7260a"/>
<circle cx="405.82" cy="159.8" r="2.3" fill="#d7260a"/>
<circle cx="427.44" cy="175.6" r="2.3" fill="#d7260a"/>
<circle cx="282.1" cy="101.8" r="2.3" fill="#0a30fa"/>
<circle cx="313.03" cy="102.7" r="2.3" fill="#0a30fa"/>
<circle cx="334.65" cy="105.3" r="2.3" fill="#0a30fa"/>
<circle cx="343.96" cy="110.6" r="2.3" fill="#0a30fa"/>
<circle cx="365.58" cy="127.4" r="2.3" fill="#0a30fa"/>
<circle cx="374.89" cy="133.8" r="2.3" fill="#0a30fa"/>
<circle cx="396.51" cy="145" r="2.3" fill="#0a30fa"/>
<circle cx="405.82" cy="147" r="2.3" fill="#0a30fa"/>
<circle cx="427.44" cy="154.2" r="2.3" fill="#0a30fa"/>
<circle cx="282.1" cy="76.8" r="2.05" fill="none" stroke="#d7260a" stroke-width="1.3"/>
<circle cx="313.03" cy="76.8" r="2.05" fill="none" stroke="#d7260a" stroke-width="1.3"/>
<circle cx="334.65" cy="84.7" r="2.05" fill="none" stroke="#d7260a" stroke-width="1.3"/>
<circle cx="343.96" cy="90.9" r="2.05" fill="none" stroke="#d7260a" stroke-width="1.3"/>
<circle cx="365.58" cy="113.7" r="2.05" fill="none" stroke="#d7260a" stroke-width="1.3"/>
<circle cx="374.89" cy="126.6" r="2.05" fill="none" stroke="#d7260a" stroke-width="1.3"/>
<circle cx="396.51" cy="140.2" r="2.05" fill="none" stroke="#d7260a" stroke-width="1.3"/>
<circle cx="427.44" cy="162.2" r="2.05" fill="none" stroke="#d7260a" stroke-width="1.3"/>
<circle cx="282.1" cy="76.4" r="2.05" fill="none" stroke="#0a30fa" stroke-width="1.3"/>
<circle cx="313.03" cy="76.8" r="2.05" fill="none" stroke="#0a30fa" stroke-width="1.3"/>
<circle cx="334.65" cy="83.6" r="2.05" fill="none" stroke="#0a30fa" stroke-width="1.3"/>
<circle cx="343.96" cy="85.6" r="2.05" fill="none" stroke="#0a30fa" stroke-width="1.3"/>
<circle cx="365.58" cy="102.5" r="2.05" fill="none" stroke="#0a30fa" stroke-width="1.3"/>
<circle cx="374.89" cy="111.3" r="2.05" fill="none" stroke="#0a30fa" stroke-width="1.3"/>
<circle cx="396.51" cy="132.2" r="2.05" fill="none" stroke="#0a30fa" stroke-width="1.3"/>
<circle cx="405.82" cy="135.4" r="2.05" fill="none" stroke="#0a30fa" stroke-width="1.3"/>
<circle cx="427.44" cy="145" r="2.05" fill="none" stroke="#0a30fa" stroke-width="1.3"/>
<rect x="502.2" y="139.6" width="10.5" height="62.4" fill="#8f8f8f"/>
<path d="M492.5 46.15V202.85" stroke="#000" stroke-width="1.7" fill="none"/>
<path d="M489.9 202H492.5" stroke="#000" stroke-width="1.7"/>
<text x="486.9" y="205.31" font-size="9.2" font-weight="bold" font-family='"Liberation Sans", sans-serif' text-anchor="end" fill="#000" textLength="4.79" lengthAdjust="spacingAndGlyphs" stroke="#000" stroke-width="0.22">0</text>
<path d="M489.9 171H492.5" stroke="#000" stroke-width="1.7"/>
<text x="486.9" y="174.31" font-size="9.2" font-weight="bold" font-family='"Liberation Sans", sans-serif' text-anchor="end" fill="#000" textLength="28.74" lengthAdjust="spacingAndGlyphs" stroke="#000" stroke-width="0.22">200000</text>
<path d="M489.9 140H492.5" stroke="#000" stroke-width="1.7"/>
<text x="486.9" y="143.31" font-size="9.2" font-weight="bold" font-family='"Liberation Sans", sans-serif' text-anchor="end" fill="#000" textLength="28.74" lengthAdjust="spacingAndGlyphs" stroke="#000" stroke-width="0.22">400000</text>
<path d="M489.9 109H492.5" stroke="#000" stroke-width="1.7"/>
<text x="486.9" y="112.31" font-size="9.2" font-weight="bold" font-family='"Liberation Sans", sans-serif' text-anchor="end" fill="#000" textLength="28.74" lengthAdjust="spacingAndGlyphs" stroke="#000" stroke-width="0.22">600000</text>
<path d="M489.9 78H492.5" stroke="#000" stroke-width="1.7"/>
<text x="486.9" y="81.31" font-size="9.2" font-weight="bold" font-family='"Liberation Sans", sans-serif' text-anchor="end" fill="#000" textLength="28.74" lengthAdjust="spacingAndGlyphs" stroke="#000" stroke-width="0.22">800000</text>
<path d="M489.9 47H492.5" stroke="#000" stroke-width="1.7"/>
<text x="486.9" y="50.31" font-size="9.2" font-weight="bold" font-family='"Liberation Sans", sans-serif' text-anchor="end" fill="#000" textLength="33.53" lengthAdjust="spacingAndGlyphs" stroke="#000" stroke-width="0.22">1000000</text>
<path d="M506.95 217H663.3" stroke="#000" stroke-width="1.7" fill="none"/>
<path d="M507.8 217V219.8" stroke="#000" stroke-width="1.7"/>
<path d="M538.73 217V219.8" stroke="#000" stroke-width="1.7"/>
<path d="M569.66 217V219.8" stroke="#000" stroke-width="1.7"/>
<path d="M600.59 217V219.8" stroke="#000" stroke-width="1.7"/>
<path d="M631.52 217V219.8" stroke="#000" stroke-width="1.7"/>
<path d="M662.45 217V219.8" stroke="#000" stroke-width="1.7"/>
<text x="508" y="230.4" font-size="9.2" font-weight="bold" font-family='"Liberation Sans", sans-serif' text-anchor="middle" fill="#000" textLength="4.9" lengthAdjust="spacingAndGlyphs" stroke="#000" stroke-width="0.22">0</text>
<text x="531.58" y="231.3" font-size="9.0" font-weight="bold" font-family='"Liberation Sans", sans-serif' text-anchor="start" fill="#000" textLength="8.8" lengthAdjust="spacingAndGlyphs" stroke="#000" stroke-width="0.22">10</text>
<text x="540.68" y="228.5" font-size="7.0" font-weight="bold" font-family='"Liberation Sans", sans-serif' text-anchor="start" fill="#000" textLength="5.6" lengthAdjust="spacingAndGlyphs" stroke="#000" stroke-width="0.22">-9</text>
<text x="562.51" y="231.3" font-size="9.0" font-weight="bold" font-family='"Liberation Sans", sans-serif' text-anchor="start" fill="#000" textLength="8.8" lengthAdjust="spacingAndGlyphs" stroke="#000" stroke-width="0.22">10</text>
<text x="571.61" y="228.5" font-size="7.0" font-weight="bold" font-family='"Liberation Sans", sans-serif' text-anchor="start" fill="#000" textLength="5.6" lengthAdjust="spacingAndGlyphs" stroke="#000" stroke-width="0.22">-8</text>
<text x="593.44" y="231.3" font-size="9.0" font-weight="bold" font-family='"Liberation Sans", sans-serif' text-anchor="start" fill="#000" textLength="8.8" lengthAdjust="spacingAndGlyphs" stroke="#000" stroke-width="0.22">10</text>
<text x="602.54" y="228.5" font-size="7.0" font-weight="bold" font-family='"Liberation Sans", sans-serif' text-anchor="start" fill="#000" textLength="5.6" lengthAdjust="spacingAndGlyphs" stroke="#000" stroke-width="0.22">-7</text>
<text x="624.37" y="231.3" font-size="9.0" font-weight="bold" font-family='"Liberation Sans", sans-serif' text-anchor="start" fill="#000" textLength="8.8" lengthAdjust="spacingAndGlyphs" stroke="#000" stroke-width="0.22">10</text>
<text x="633.47" y="228.5" font-size="7.0" font-weight="bold" font-family='"Liberation Sans", sans-serif' text-anchor="start" fill="#000" textLength="5.6" lengthAdjust="spacingAndGlyphs" stroke="#000" stroke-width="0.22">-6</text>
<text x="655.3" y="231.3" font-size="9.0" font-weight="bold" font-family='"Liberation Sans", sans-serif' text-anchor="start" fill="#000" textLength="8.8" lengthAdjust="spacingAndGlyphs" stroke="#000" stroke-width="0.22">10</text>
<text x="664.4" y="228.5" font-size="7.0" font-weight="bold" font-family='"Liberation Sans", sans-serif' text-anchor="start" fill="#000" textLength="5.6" lengthAdjust="spacingAndGlyphs" stroke="#000" stroke-width="0.22">-5</text>
<text x="538.7" y="247.3" font-size="12.2" font-weight="bold" font-family='"Liberation Sans", sans-serif' text-anchor="start" fill="#000" textLength="94.8" lengthAdjust="spacingAndGlyphs" stroke="#000" stroke-width="0.22">CDK4/6i (nmol/L)</text>
<text transform="translate(449.7 123.4) rotate(-90)" x="0" y="0" font-size="12" font-weight="bold" font-family='"Liberation Sans", sans-serif' text-anchor="middle" textLength="81.8" lengthAdjust="spacingAndGlyphs">Luminescence</text>
<path d="M507.8 65.61 L509.02 65.62 L510.24 65.63 L511.46 65.64 L512.68 65.66 L513.9 65.67 L515.11 65.69 L516.33 65.7 L517.55 65.72 L518.77 65.74 L519.99 65.76 L521.21 65.79 L522.43 65.81 L523.65 65.84 L524.87 65.88 L526.09 65.91 L527.31 65.95 L528.53 65.99 L529.74 66.04 L530.96 66.09 L532.18 66.14 L533.4 66.21 L534.62 66.27 L535.84 66.35 L537.06 66.43 L538.28 66.52 L539.5 66.61 L540.72 66.72 L541.94 66.84 L543.16 66.97 L544.37 67.11 L545.59 67.26 L546.81 67.43 L548.03 67.62 L549.25 67.82 L550.47 68.04 L551.69 68.28 L552.91 68.55 L554.13 68.84 L555.35 69.16 L556.57 69.51 L557.79 69.89 L559 70.31 L560.22 70.77 L561.44 71.27 L562.66 71.81 L563.88 72.41 L565.1 73.06 L566.32 73.76 L567.54 74.53 L568.76 75.37 L569.98 76.28 L571.2 77.27 L572.42 78.35 L573.63 79.51 L574.85 80.78 L576.07 82.14 L577.29 83.62 L578.51 85.21 L579.73 86.92 L580.95 88.76 L582.17 90.74 L583.39 92.85 L584.61 95.11 L585.83 97.51 L587.05 100.06 L588.26 102.76 L589.48 105.61 L590.7 108.6 L591.92 111.73 L593.14 115 L594.36 118.39 L595.58 121.89 L596.8 125.48 L598.02 129.14 L599.24 132.85 L600.46 136.59 L601.68 140.32 L602.89 144.02 L604.11 147.66 L605.33 151.2 L606.55 154.62 L607.77 157.87 L608.99 160.95 L610.21 163.81 L611.43 166.45 L612.65 168.85 L613.87 170.99 L615.09 172.89 L616.31 174.54 L617.52 175.95 L618.74 177.14 L619.96 178.13 L621.18 178.93 L622.4 179.57 L623.62 180.07 L624.84 180.46 L626.06 180.75 L627.28 180.97 L628.5 181.13 L629.72 181.24 L630.93 181.32 L632.15 181.38 L633.37 181.41 L634.59 181.44 L635.81 181.45 L637.03 181.46 L638.25 181.47 L639.47 181.47 L640.69 181.48 L641.91 181.48 L643.13 181.48 L644.35 181.48 L645.56 181.48 L646.78 181.48 L648 181.48 L649.22 181.48 L650.44 181.48 L651.66 181.48 L652.88 181.48 L654.1 181.48" fill="none" stroke="#0a30fa" stroke-width="1.75"/>
<path d="M507.8 71.34 L509.02 71.35 L510.24 71.36 L511.46 71.37 L512.68 71.39 L513.9 71.4 L515.11 71.42 L516.33 71.44 L517.55 71.46 L518.77 71.48 L519.99 71.51 L521.21 71.54 L522.43 71.57 L523.65 71.6 L524.87 71.64 L526.09 71.68 L527.31 71.72 L528.53 71.77 L529.74 71.83 L530.96 71.89 L532.18 71.96 L533.4 72.03 L534.62 72.11 L535.84 72.2 L537.06 72.29 L538.28 72.4 L539.5 72.52 L540.72 72.65 L541.94 72.79 L543.16 72.94 L544.37 73.12 L545.59 73.3 L546.81 73.51 L548.03 73.74 L549.25 73.99 L550.47 74.26 L551.69 74.56 L552.91 74.89 L554.13 75.25 L555.35 75.65 L556.57 76.08 L557.79 76.55 L559 77.07 L560.22 77.64 L561.44 78.27 L562.66 78.95 L563.88 79.69 L565.1 80.5 L566.32 81.38 L567.54 82.35 L568.76 83.39 L569.98 84.53 L571.2 85.77 L572.42 87.11 L573.63 88.56 L574.85 90.13 L576.07 91.82 L577.29 93.65 L578.51 95.6 L579.73 97.7 L580.95 99.95 L582.17 102.34 L583.39 104.89 L584.61 107.58 L585.83 110.43 L587.05 113.42 L588.26 116.56 L589.48 119.83 L590.7 123.23 L591.92 126.73 L593.14 130.33 L594.36 133.99 L595.58 137.71 L596.8 141.45 L598.02 145.18 L599.24 148.88 L600.46 152.52 L601.68 156.05 L602.89 159.46 L604.11 162.72 L605.33 165.79 L606.55 168.66 L607.77 171.31 L608.99 173.73 L610.21 175.91 L611.43 177.85 L612.65 179.55 L613.87 181.02 L615.09 182.28 L616.31 183.34 L617.52 184.22 L618.74 184.94 L619.96 185.53 L621.18 185.99 L622.4 186.36 L623.62 186.64 L624.84 186.86 L626.06 187.02 L627.28 187.14 L628.5 187.23 L629.72 187.3 L630.93 187.34 L632.15 187.38 L633.37 187.4 L634.59 187.42 L635.81 187.43 L637.03 187.44 L638.25 187.44 L639.47 187.44 L640.69 187.45 L641.91 187.45 L643.13 187.45 L644.35 187.45 L645.56 187.45 L646.78 187.45 L648 187.45 L649.22 187.45 L650.44 187.45 L651.66 187.45 L652.88 187.45 L654.1 187.45" fill="none" stroke="#d7260a" stroke-width="1.75"/>
<path d="M507.8 139.02 L509.02 139.04 L510.24 139.06 L511.46 139.08 L512.68 139.1 L513.9 139.13 L515.11 139.15 L516.33 139.18 L517.55 139.22 L518.77 139.25 L519.99 139.29 L521.21 139.34 L522.43 139.39 L523.65 139.44 L524.87 139.5 L526.09 139.56 L527.31 139.63 L528.53 139.7 L529.74 139.79 L530.96 139.88 L532.18 139.97 L533.4 140.08 L534.62 140.2 L535.84 140.33 L537.06 140.47 L538.28 140.62 L539.5 140.79 L540.72 140.97 L541.94 141.18 L543.16 141.39 L544.37 141.63 L545.59 141.89 L546.81 142.17 L548.03 142.48 L549.25 142.82 L550.47 143.18 L551.69 143.58 L552.91 144.01 L554.13 144.47 L555.35 144.98 L556.57 145.53 L557.79 146.12 L559 146.76 L560.22 147.45 L561.44 148.19 L562.66 148.99 L563.88 149.85 L565.1 150.77 L566.32 151.75 L567.54 152.8 L568.76 153.91 L569.98 155.1 L571.2 156.35 L572.42 157.67 L573.63 159.05 L574.85 160.5 L576.07 162.01 L577.29 163.58 L578.51 165.2 L579.73 166.86 L580.95 168.56 L582.17 170.29 L583.39 172.02 L584.61 173.76 L585.83 175.48 L587.05 177.18 L588.26 178.83 L589.48 180.43 L590.7 181.96 L591.92 183.41 L593.14 184.76 L594.36 186 L595.58 187.13 L596.8 188.15 L598.02 189.05 L599.24 189.83 L600.46 190.49 L601.68 191.06 L602.89 191.52 L604.11 191.89 L605.33 192.19 L606.55 192.42 L607.77 192.6 L608.99 192.73 L610.21 192.83 L611.43 192.9 L612.65 192.95 L613.87 192.98 L615.09 193 L616.31 193.01 L617.52 193.02 L618.74 193.03 L619.96 193.03 L621.18 193.03 L622.4 193.04 L623.62 193.04 L624.84 193.04 L626.06 193.04 L627.28 193.04 L628.5 193.04 L629.72 193.04 L630.93 193.04 L632.15 193.04 L633.37 193.04 L634.59 193.04 L635.81 193.04 L637.03 193.04 L638.25 193.04 L639.47 193.04 L640.69 193.04 L641.91 193.04 L643.13 193.04 L644.35 193.04 L645.56 193.04 L646.78 193.04 L648 193.04 L649.22 193.04 L650.44 193.04 L651.66 193.04 L652.88 193.04 L654.1 193.04" fill="none" stroke="#d7260a" stroke-width="1.8" stroke-dasharray="6.5 2.4"/>
<path d="M507.8 142.4 L509.02 142.41 L510.24 142.43 L511.46 142.44 L512.68 142.46 L513.9 142.47 L515.11 142.49 L516.33 142.51 L517.55 142.54 L518.77 142.56 L519.99 142.59 L521.21 142.62 L522.43 142.65 L523.65 142.68 L524.87 142.72 L526.09 142.77 L527.31 142.81 L528.53 142.87 L529.74 142.92 L530.96 142.98 L532.18 143.05 L533.4 143.12 L534.62 143.21 L535.84 143.29 L537.06 143.39 L538.28 143.5 L539.5 143.61 L540.72 143.74 L541.94 143.88 L543.16 144.03 L544.37 144.2 L545.59 144.38 L546.81 144.58 L548.03 144.79 L549.25 145.03 L550.47 145.29 L551.69 145.57 L552.91 145.87 L554.13 146.21 L555.35 146.57 L556.57 146.96 L557.79 147.39 L559 147.85 L560.22 148.36 L561.44 148.9 L562.66 149.49 L563.88 150.12 L565.1 150.81 L566.32 151.54 L567.54 152.33 L568.76 153.18 L569.98 154.09 L571.2 155.06 L572.42 156.09 L573.63 157.18 L574.85 158.34 L576.07 159.57 L577.29 160.85 L578.51 162.2 L579.73 163.6 L580.95 165.05 L582.17 166.56 L583.39 168.1 L584.61 169.67 L585.83 171.27 L587.05 172.88 L588.26 174.48 L589.48 176.08 L590.7 177.64 L591.92 179.17 L593.14 180.63 L594.36 182.04 L595.58 183.36 L596.8 184.58 L598.02 185.71 L599.24 186.74 L600.46 187.65 L601.68 188.45 L602.89 189.15 L604.11 189.74 L605.33 190.23 L606.55 190.64 L607.77 190.96 L608.99 191.22 L610.21 191.41 L611.43 191.56 L612.65 191.67 L613.87 191.75 L615.09 191.81 L616.31 191.84 L617.52 191.87 L618.74 191.89 L619.96 191.9 L621.18 191.91 L622.4 191.91 L623.62 191.91 L624.84 191.91 L626.06 191.91 L627.28 191.91 L628.5 191.92 L629.72 191.92 L630.93 191.92 L632.15 191.92 L633.37 191.92 L634.59 191.92 L635.81 191.92 L637.03 191.92 L638.25 191.92 L639.47 191.92 L640.69 191.92 L641.91 191.92 L643.13 191.92 L644.35 191.92 L645.56 191.92 L646.78 191.92 L648 191.92 L649.22 191.92 L650.44 191.92 L651.66 191.92 L652.88 191.92 L654.1 191.92" fill="none" stroke="#0a30fa" stroke-width="1.8" stroke-dasharray="6.5 2.4"/>
<path d="M507.8 58.7V61.55 M506 58.7h3.6" stroke="#0a30fa" stroke-width="1.0" fill="none"/>
<path d="M507.8 65.65V68.5 M506 68.5h3.6" stroke="#0a30fa" stroke-width="1.0" fill="none"/>
<path d="M507.8 63V66.45 M506 63h3.6" stroke="#d7260a" stroke-width="1.0" fill="none"/>
<path d="M507.8 70.55V75.3 M506 75.3h3.6" stroke="#d7260a" stroke-width="1.0" fill="none"/>
<path d="M538.73 56V62.05 M536.93 56h3.6" stroke="#0a30fa" stroke-width="1.0" fill="none"/>
<path d="M538.73 66.15V72 M536.93 72h3.6" stroke="#0a30fa" stroke-width="1.0" fill="none"/>
<path d="M538.73 66V69.35 M536.93 66h3.6" stroke="#d7260a" stroke-width="1.0" fill="none"/>
<path d="M538.73 73.45V76 M536.93 76h3.6" stroke="#d7260a" stroke-width="1.0" fill="none"/>
<path d="M560.35 65.5V68.35 M558.55 65.5h3.6" stroke="#0a30fa" stroke-width="1.0" fill="none"/>
<path d="M560.35 72.45V75.5 M558.55 75.5h3.6" stroke="#0a30fa" stroke-width="1.0" fill="none"/>
<path d="M560.35 75V78.05 M558.55 75h3.6" stroke="#d7260a" stroke-width="1.0" fill="none"/>
<path d="M560.35 82.15V85 M558.55 85h3.6" stroke="#d7260a" stroke-width="1.0" fill="none"/>
<path d="M569.66 77V79.15 M567.86 77h3.6" stroke="#0a30fa" stroke-width="1.0" fill="none"/>
<path d="M569.66 83.25V85 M567.86 85h3.6" stroke="#0a30fa" stroke-width="1.0" fill="none"/>
<path d="M591.28 109.5V112.05 M589.48 109.5h3.6" stroke="#0a30fa" stroke-width="1.0" fill="none"/>
<path d="M591.28 116.15V118 M589.48 118h3.6" stroke="#0a30fa" stroke-width="1.0" fill="none"/>
<path d="M507.8 133.5V141.5 M506 133.5h3.6 M506 141.5h3.6" stroke="#d7260a" stroke-width="1.0" fill="none"/>
<path d="M507.8 137V145 M506 137h3.6 M506 145h3.6" stroke="#0a30fa" stroke-width="1.0" fill="none"/>
<path d="M538.73 139.5V148.5 M536.93 139.5h3.6 M536.93 148.5h3.6" stroke="#0a30fa" stroke-width="1.0" fill="none"/>
<path d="M538.73 133.5V139 M536.93 133.5h3.6 M536.93 139h3.6" stroke="#d7260a" stroke-width="1.0" fill="none"/>
<circle cx="507.8" cy="137.7" r="2.3" fill="#d7260a"/>
<circle cx="538.73" cy="136.1" r="2.3" fill="#d7260a"/>
<circle cx="560.35" cy="150.8" r="2.3" fill="#d7260a"/>
<circle cx="569.66" cy="158.9" r="2.3" fill="#d7260a"/>
<circle cx="591.28" cy="180.2" r="2.3" fill="#d7260a"/>
<circle cx="600.59" cy="186.4" r="2.3" fill="#d7260a"/>
<circle cx="622.21" cy="191.5" r="2.3" fill="#d7260a"/>
<circle cx="631.52" cy="192.8" r="2.3" fill="#d7260a"/>
<circle cx="653.14" cy="199.2" r="2.8" fill="#d7260a"/>
<circle cx="507.8" cy="141.4" r="2.3" fill="#0a30fa"/>
<circle cx="538.73" cy="144.1" r="2.3" fill="#0a30fa"/>
<circle cx="560.35" cy="147.6" r="2.3" fill="#0a30fa"/>
<circle cx="569.66" cy="156.9" r="2.3" fill="#0a30fa"/>
<circle cx="591.28" cy="177.5" r="2.3" fill="#0a30fa"/>
<circle cx="600.59" cy="184.7" r="2.3" fill="#0a30fa"/>
<circle cx="622.21" cy="191.2" r="2.3" fill="#0a30fa"/>
<circle cx="631.52" cy="191.5" r="2.3" fill="#0a30fa"/>
<circle cx="653.14" cy="191.5" r="2.3" fill="#0a30fa"/>
<circle cx="507.8" cy="68.5" r="2.05" fill="none" stroke="#d7260a" stroke-width="1.3"/>
<circle cx="538.73" cy="71.4" r="2.05" fill="none" stroke="#d7260a" stroke-width="1.3"/>
<circle cx="560.35" cy="80.1" r="2.05" fill="none" stroke="#d7260a" stroke-width="1.3"/>
<circle cx="569.66" cy="86.7" r="2.05" fill="none" stroke="#d7260a" stroke-width="1.3"/>
<circle cx="591.28" cy="127.7" r="2.05" fill="none" stroke="#d7260a" stroke-width="1.3"/>
<circle cx="600.59" cy="149.7" r="2.05" fill="none" stroke="#d7260a" stroke-width="1.3"/>
<circle cx="622.21" cy="182.8" r="2.05" fill="none" stroke="#d7260a" stroke-width="1.3"/>
<circle cx="631.52" cy="187.5" r="2.05" fill="none" stroke="#d7260a" stroke-width="1.3"/>
<circle cx="507.8" cy="63.6" r="2.05" fill="none" stroke="#0a30fa" stroke-width="1.3"/>
<circle cx="538.73" cy="64.1" r="2.05" fill="none" stroke="#0a30fa" stroke-width="1.3"/>
<circle cx="560.35" cy="70.4" r="2.05" fill="none" stroke="#0a30fa" stroke-width="1.3"/>
<circle cx="569.66" cy="81.2" r="2.05" fill="none" stroke="#0a30fa" stroke-width="1.3"/>
<circle cx="591.28" cy="114.1" r="2.05" fill="none" stroke="#0a30fa" stroke-width="1.3"/>
<circle cx="600.59" cy="134.6" r="2.05" fill="none" stroke="#0a30fa" stroke-width="1.3"/>
<circle cx="622.21" cy="173.2" r="2.05" fill="none" stroke="#0a30fa" stroke-width="1.3"/>
<circle cx="631.52" cy="181.2" r="2.05" fill="none" stroke="#0a30fa" stroke-width="1.3"/>
<circle cx="653.14" cy="185.1" r="2.05" fill="none" stroke="#0a30fa" stroke-width="1.3"/>
<path d="M607 51.6H619.7" stroke="#0a30fa" stroke-width="1.5"/>
<circle cx="613.4" cy="51.6" r="2.0" fill="none" stroke="#0a30fa" stroke-width="1.2"/>
<text x="625.1" y="54.9" font-size="9.3" font-weight="normal" font-family='"Liberation Sans", sans-serif' text-anchor="start" fill="#000" textLength="39.1" lengthAdjust="spacingAndGlyphs">Palbociclib</text>
<path d="M607 65.6H619.7" stroke="#0a30fa" stroke-width="1.5" stroke-dasharray="1.6 1.6"/>
<circle cx="613.4" cy="65.6" r="2.1" fill="#0a30fa"/>
<text x="625.1" y="68.9" font-size="9.3" font-weight="normal" font-family='"Liberation Sans", sans-serif' text-anchor="start" fill="#000" textLength="54" lengthAdjust="spacingAndGlyphs">Palbociclib+EL</text>
<path d="M607 80H619.7" stroke="#d7260a" stroke-width="1.5"/>
<circle cx="613.4" cy="80" r="2.0" fill="none" stroke="#d7260a" stroke-width="1.2"/>
<text x="625.1" y="83.3" font-size="9.3" font-weight="normal" font-family='"Liberation Sans", sans-serif' text-anchor="start" fill="#000" textLength="39.3" lengthAdjust="spacingAndGlyphs">Abemaciclib</text>
<path d="M607 94.5H619.7" stroke="#d7260a" stroke-width="1.5" stroke-dasharray="1.6 1.6"/>
<circle cx="613.4" cy="94.5" r="2.1" fill="#d7260a"/>
<text x="625.1" y="97.8" font-size="9.3" font-weight="normal" font-family='"Liberation Sans", sans-serif' text-anchor="start" fill="#000" textLength="59.6" lengthAdjust="spacingAndGlyphs">Abemaciclib+EL</text>
<path d="M88.65 316.4V461.2" stroke="#000" stroke-width="1.8" fill="none"/>
<path d="M83.85 460.3H88.65" stroke="#000" stroke-width="1.8"/>
<text x="83.6" y="463.83" font-size="9.8" font-weight="bold" font-family='"Liberation Sans", sans-serif' text-anchor="end" fill="#000" textLength="5.15" lengthAdjust="spacingAndGlyphs" stroke="#000" stroke-width="0.22">0</text>
<path d="M83.85 424.55H88.65" stroke="#000" stroke-width="1.8"/>
<text x="83.6" y="428.08" font-size="9.8" font-weight="bold" font-family='"Liberation Sans", sans-serif' text-anchor="end" fill="#000" textLength="30.9" lengthAdjust="spacingAndGlyphs" stroke="#000" stroke-width="0.22">100000</text>
<path d="M83.85 388.8H88.65" stroke="#000" stroke-width="1.8"/>
<text x="83.6" y="392.33" font-size="9.8" font-weight="bold" font-family='"Liberation Sans", sans-serif' text-anchor="end" fill="#000" textLength="30.9" lengthAdjust="spacingAndGlyphs" stroke="#000" stroke-width="0.22">200000</text>
<path d="M83.85 353.05H88.65" stroke="#000" stroke-width="1.8"/>
<text x="83.6" y="356.58" font-size="9.8" font-weight="bold" font-family='"Liberation Sans", sans-serif' text-anchor="end" fill="#000" textLength="30.9" lengthAdjust="spacingAndGlyphs" stroke="#000" stroke-width="0.22">300000</text>
<path d="M83.85 317.3H88.65" stroke="#000" stroke-width="1.8"/>
<text x="83.6" y="320.83" font-size="9.8" font-weight="bold" font-family='"Liberation Sans", sans-serif' text-anchor="end" fill="#000" textLength="30.9" lengthAdjust="spacingAndGlyphs" stroke="#000" stroke-width="0.22">400000</text>
<path d="M103 476H244.8" stroke="#000" stroke-width="1.8" fill="none"/>
<path d="M103.9 476V480.6" stroke="#000" stroke-width="1.8"/>
<path d="M123.9 476V480.6" stroke="#000" stroke-width="1.8"/>
<path d="M143.9 476V480.6" stroke="#000" stroke-width="1.8"/>
<path d="M163.9 476V480.6" stroke="#000" stroke-width="1.8"/>
<path d="M183.9 476V480.6" stroke="#000" stroke-width="1.8"/>
<path d="M203.9 476V480.6" stroke="#000" stroke-width="1.8"/>
<path d="M223.9 476V480.6" stroke="#000" stroke-width="1.8"/>
<path d="M243.9 476V480.6" stroke="#000" stroke-width="1.8"/>
<text x="103.9" y="490.1" font-size="9.8" font-weight="bold" font-family='"Liberation Sans", sans-serif' text-anchor="middle" fill="#000" textLength="4.9" lengthAdjust="spacingAndGlyphs" stroke="#000" stroke-width="0.22">0</text>
<text x="113.85" y="490.4" font-size="9.3" font-weight="bold" font-family='"Liberation Sans", sans-serif' text-anchor="start" fill="#000" textLength="10.8" lengthAdjust="spacingAndGlyphs" stroke="#000" stroke-width="0.22">10</text>
<text x="124.95" y="486" font-size="6.6" font-weight="bold" font-family='"Liberation Sans", sans-serif' text-anchor="start" fill="#000" textLength="9" lengthAdjust="spacingAndGlyphs" stroke="#000" stroke-width="0.22">-12</text>
<text x="133.85" y="490.4" font-size="9.3" font-weight="bold" font-family='"Liberation Sans", sans-serif' text-anchor="start" fill="#000" textLength="10.8" lengthAdjust="spacingAndGlyphs" stroke="#000" stroke-width="0.22">10</text>
<text x="144.95" y="486" font-size="6.6" font-weight="bold" font-family='"Liberation Sans", sans-serif' text-anchor="start" fill="#000" textLength="9" lengthAdjust="spacingAndGlyphs" stroke="#000" stroke-width="0.22">-11</text>
<text x="153.85" y="490.4" font-size="9.3" font-weight="bold" font-family='"Liberation Sans", sans-serif' text-anchor="start" fill="#000" textLength="10.8" lengthAdjust="spacingAndGlyphs" stroke="#000" stroke-width="0.22">10</text>
<text x="164.95" y="486" font-size="6.6" font-weight="bold" font-family='"Liberation Sans", sans-serif' text-anchor="start" fill="#000" textLength="9" lengthAdjust="spacingAndGlyphs" stroke="#000" stroke-width="0.22">-10</text>
<text x="175.35" y="490.4" font-size="9.3" font-weight="bold" font-family='"Liberation Sans", sans-serif' text-anchor="start" fill="#000" textLength="10.8" lengthAdjust="spacingAndGlyphs" stroke="#000" stroke-width="0.22">10</text>
<text x="186.45" y="486" font-size="6.6" font-weight="bold" font-family='"Liberation Sans", sans-serif' text-anchor="start" fill="#000" textLength="6" lengthAdjust="spacingAndGlyphs" stroke="#000" stroke-width="0.22">-9</text>
<text x="195.35" y="490.4" font-size="9.3" font-weight="bold" font-family='"Liberation Sans", sans-serif' text-anchor="start" fill="#000" textLength="10.8" lengthAdjust="spacingAndGlyphs" stroke="#000" stroke-width="0.22">10</text>
<text x="206.45" y="486" font-size="6.6" font-weight="bold" font-family='"Liberation Sans", sans-serif' text-anchor="start" fill="#000" textLength="6" lengthAdjust="spacingAndGlyphs" stroke="#000" stroke-width="0.22">-8</text>
<text x="215.35" y="490.4" font-size="9.3" font-weight="bold" font-family='"Liberation Sans", sans-serif' text-anchor="start" fill="#000" textLength="10.8" lengthAdjust="spacingAndGlyphs" stroke="#000" stroke-width="0.22">10</text>
<text x="226.45" y="486" font-size="6.6" font-weight="bold" font-family='"Liberation Sans", sans-serif' text-anchor="start" fill="#000" textLength="6" lengthAdjust="spacingAndGlyphs" stroke="#000" stroke-width="0.22">-7</text>
<text x="235.35" y="490.4" font-size="9.3" font-weight="bold" font-family='"Liberation Sans", sans-serif' text-anchor="start" fill="#000" textLength="10.8" lengthAdjust="spacingAndGlyphs" stroke="#000" stroke-width="0.22">10</text>
<text x="246.45" y="486" font-size="6.6" font-weight="bold" font-family='"Liberation Sans", sans-serif' text-anchor="start" fill="#000" textLength="6" lengthAdjust="spacingAndGlyphs" stroke="#000" stroke-width="0.22">-6</text>
<text x="120.1" y="308.8" font-size="14.0" font-weight="bold" font-family='"Liberation Sans", sans-serif' text-anchor="start" fill="#000" textLength="72.5" lengthAdjust="spacingAndGlyphs" stroke="#000" stroke-width="0.22">MCF7-LTED</text>
<text x="192.4" y="303.2" font-size="9.0" font-weight="bold" font-family='"Liberation Sans", sans-serif' text-anchor="start" fill="#000" textLength="27.7" lengthAdjust="spacingAndGlyphs" font-style="italic" stroke="#000" stroke-width="0.22">Y537C</text>
<text transform="translate(50.7 388.5) rotate(-90)" x="0" y="0" font-size="12.4" font-weight="bold" font-family='"Liberation Sans", sans-serif' text-anchor="middle" textLength="86.6" lengthAdjust="spacingAndGlyphs">Luminescence</text>
<text x="126.3" y="505.5" font-size="11.4" font-weight="bold" font-family='"Liberation Sans", sans-serif' text-anchor="start" fill="#000" textLength="96.6" lengthAdjust="spacingAndGlyphs" stroke="#000" stroke-width="0.22">Elacestrant (mol/L)</text>
<path d="M202.2 335.9H216" stroke="#0a30fa" stroke-width="1.6"/>
<circle cx="209.3" cy="335.9" r="2.4" fill="#0a30fa"/>
<text x="221.8" y="339.4" font-size="9.6" font-weight="normal" font-family='"Liberation Sans", sans-serif' text-anchor="start" fill="#000" textLength="10.6" lengthAdjust="spacingAndGlyphs">EL</text>
<path d="M202.2 347.7H216" stroke="#d7260a" stroke-width="1.6"/>
<rect x="207.1" y="345.5" width="4.4" height="4.4" fill="#d7260a"/>
<text x="221.8" y="351.2" font-size="9.6" font-weight="normal" font-family='"Liberation Sans", sans-serif' text-anchor="start" fill="#000" textLength="81.3" lengthAdjust="spacingAndGlyphs">EL + EVEROLIMUS</text>
<path d="M103.9 386.67 L105.07 386.67 L106.23 386.67 L107.4 386.67 L108.57 386.67 L109.73 386.67 L110.9 386.67 L112.07 386.67 L113.23 386.67 L114.4 386.68 L115.57 386.68 L116.73 386.68 L117.9 386.68 L119.07 386.69 L120.23 386.69 L121.4 386.69 L122.57 386.7 L123.73 386.7 L124.9 386.71 L126.07 386.72 L127.23 386.72 L128.4 386.73 L129.57 386.74 L130.73 386.76 L131.9 386.77 L133.07 386.79 L134.23 386.8 L135.4 386.83 L136.57 386.85 L137.73 386.88 L138.9 386.91 L140.07 386.95 L141.23 386.99 L142.4 387.04 L143.57 387.1 L144.73 387.17 L145.9 387.24 L147.07 387.33 L148.23 387.43 L149.4 387.55 L150.57 387.68 L151.73 387.84 L152.9 388.01 L154.07 388.21 L155.23 388.45 L156.4 388.71 L157.57 389.01 L158.73 389.36 L159.9 389.75 L161.07 390.2 L162.23 390.71 L163.4 391.29 L164.57 391.94 L165.73 392.67 L166.9 393.5 L168.07 394.42 L169.23 395.44 L170.4 396.58 L171.57 397.83 L172.73 399.19 L173.9 400.67 L175.07 402.26 L176.23 403.95 L177.4 405.73 L178.57 407.58 L179.73 409.48 L180.9 411.39 L182.07 413.29 L183.23 415.13 L184.4 416.89 L185.57 418.52 L186.73 420 L187.9 421.31 L189.07 422.44 L190.23 423.38 L191.4 424.13 L192.57 424.72 L193.73 425.17 L194.9 425.49 L196.07 425.72 L197.23 425.87 L198.4 425.97 L199.57 426.04 L200.73 426.07 L201.9 426.1 L203.07 426.11 L204.23 426.12 L205.4 426.12 L206.57 426.12 L207.73 426.13 L208.9 426.13 L210.07 426.13 L211.23 426.13 L212.4 426.13 L213.57 426.13 L214.73 426.13 L215.9 426.13 L217.07 426.13 L218.23 426.13 L219.4 426.13 L220.57 426.13 L221.73 426.13 L222.9 426.13 L224.07 426.13 L225.23 426.13 L226.4 426.13 L227.57 426.13 L228.73 426.13 L229.9 426.13 L231.07 426.13 L232.23 426.13 L233.4 426.13 L234.57 426.13 L235.73 426.13 L236.9 426.13 L238.07 426.13 L239.23 426.13 L240.4 426.13 L241.57 426.13 L242.73 426.13 L243.9 426.13" fill="none" stroke="#d7260a" stroke-width="1.9"/>
<path d="M103.9 379.6V388.3 M102.1 379.6h3.6 M102.1 388.3h3.6" stroke="#d7260a" stroke-width="1.1" fill="none"/>
<path d="M123.9 382.5V390 M122.1 382.5h3.6 M122.1 390h3.6" stroke="#d7260a" stroke-width="1.1" fill="none"/>
<path d="M143.9 383.5V391.5 M142.1 383.5h3.6 M142.1 391.5h3.6" stroke="#d7260a" stroke-width="1.1" fill="none"/>
<path d="M163.9 389.5V393.5 M162.1 389.5h3.6 M162.1 393.5h3.6" stroke="#d7260a" stroke-width="1.1" fill="none"/>
<rect x="101.7" y="382.1" width="4.4" height="4.4" fill="#d7260a"/>
<rect x="121.7" y="384.2" width="4.4" height="4.4" fill="#d7260a"/>
<rect x="141.7" y="385.6" width="4.4" height="4.4" fill="#d7260a"/>
<rect x="161.7" y="389.3" width="4.4" height="4.4" fill="#d7260a"/>
<rect x="181.7" y="413.4" width="4.4" height="4.4" fill="#d7260a"/>
<rect x="201.7" y="423.5" width="4.4" height="4.4" fill="#d7260a"/>
<rect x="221.7" y="422.7" width="4.4" height="4.4" fill="#d7260a"/>
<rect x="241.7" y="424.6" width="4.4" height="4.4" fill="#d7260a"/>
<path d="M103.9 332.74 L105.07 332.74 L106.23 332.74 L107.4 332.75 L108.57 332.75 L109.73 332.75 L110.9 332.75 L112.07 332.76 L113.23 332.76 L114.4 332.77 L115.57 332.77 L116.73 332.78 L117.9 332.79 L119.07 332.79 L120.23 332.8 L121.4 332.81 L122.57 332.83 L123.73 332.84 L124.9 332.85 L126.07 332.87 L127.23 332.89 L128.4 332.91 L129.57 332.94 L130.73 332.97 L131.9 333 L133.07 333.04 L134.23 333.08 L135.4 333.13 L136.57 333.19 L137.73 333.25 L138.9 333.32 L140.07 333.41 L141.23 333.5 L142.4 333.61 L143.57 333.73 L144.73 333.86 L145.9 334.02 L147.07 334.2 L148.23 334.4 L149.4 334.63 L150.57 334.89 L151.73 335.18 L152.9 335.51 L154.07 335.89 L155.23 336.32 L156.4 336.8 L157.57 337.34 L158.73 337.96 L159.9 338.65 L161.07 339.43 L162.23 340.31 L163.4 341.29 L164.57 342.38 L165.73 343.6 L166.9 344.97 L168.07 346.47 L169.23 348.14 L170.4 349.97 L171.57 351.98 L172.73 354.17 L173.9 356.54 L175.07 359.09 L176.23 361.81 L177.4 364.69 L178.57 367.72 L179.73 370.85 L180.9 374.06 L182.07 377.31 L183.23 380.55 L184.4 383.73 L185.57 386.78 L186.73 389.66 L187.9 392.32 L189.07 394.71 L190.23 396.81 L191.4 398.59 L192.57 400.06 L193.73 401.24 L194.9 402.14 L196.07 402.81 L197.23 403.29 L198.4 403.62 L199.57 403.83 L200.73 403.96 L201.9 404.04 L203.07 404.09 L204.23 404.12 L205.4 404.13 L206.57 404.13 L207.73 404.14 L208.9 404.14 L210.07 404.14 L211.23 404.14 L212.4 404.14 L213.57 404.14 L214.73 404.14 L215.9 404.14 L217.07 404.14 L218.23 404.14 L219.4 404.14 L220.57 404.14 L221.73 404.14 L222.9 404.14 L224.07 404.14 L225.23 404.14 L226.4 404.14 L227.57 404.14 L228.73 404.14 L229.9 404.14 L231.07 404.14 L232.23 404.14 L233.4 404.14 L234.57 404.14 L235.73 404.14 L236.9 404.14 L238.07 404.14 L239.23 404.14 L240.4 404.14 L241.57 404.14 L242.73 404.14 L243.9 404.14" fill="none" stroke="#0a30fa" stroke-width="1.9"/>
<path d="M103.9 322.8V336.9 M102.1 322.8h3.6 M102.1 336.9h3.6" stroke="#0a30fa" stroke-width="1.1" fill="none"/>
<path d="M123.9 325.2V338 M122.1 325.2h3.6 M122.1 338h3.6" stroke="#0a30fa" stroke-width="1.1" fill="none"/>
<path d="M143.9 331.5V346.2 M142.1 331.5h3.6 M142.1 346.2h3.6" stroke="#0a30fa" stroke-width="1.1" fill="none"/>
<path d="M163.9 335.2V350.2 M162.1 335.2h3.6 M162.1 350.2h3.6" stroke="#0a30fa" stroke-width="1.1" fill="none"/>
<path d="M183.9 377.3V387.1 M182.1 377.3h3.6 M182.1 387.1h3.6" stroke="#0a30fa" stroke-width="1.1" fill="none"/>
<path d="M203.9 401.5V406 M202.1 401.5h3.6 M202.1 406h3.6" stroke="#0a30fa" stroke-width="1.1" fill="none"/>
<path d="M223.9 401.5V406 M222.1 401.5h3.6 M222.1 406h3.6" stroke="#0a30fa" stroke-width="1.1" fill="none"/>
<path d="M243.9 399.9V407.6 M242.1 399.9h3.6 M242.1 407.6h3.6" stroke="#0a30fa" stroke-width="1.1" fill="none"/>
<circle cx="103.9" cy="329.9" r="2.3" fill="#0a30fa"/>
<circle cx="123.9" cy="332.2" r="2.3" fill="#0a30fa"/>
<circle cx="143.9" cy="339.2" r="2.3" fill="#0a30fa"/>
<circle cx="163.9" cy="342.2" r="2.3" fill="#0a30fa"/>
<circle cx="183.9" cy="381.9" r="2.3" fill="#0a30fa"/>
<circle cx="203.9" cy="403.9" r="2.3" fill="#0a30fa"/>
<circle cx="223.9" cy="403.9" r="2.3" fill="#0a30fa"/>
<circle cx="243.9" cy="403.9" r="2.3" fill="#0a30fa"/>
<path d="M399.6 314.5V462.4" stroke="#000" stroke-width="1.8" fill="none"/>
<path d="M396.2 461.5H399.6" stroke="#000" stroke-width="1.8"/>
<text x="394.2" y="465.12" font-size="10.045" font-weight="bold" font-family='"Liberation Sans", sans-serif' text-anchor="end" fill="#000" textLength="5.15" lengthAdjust="spacingAndGlyphs" stroke="#000" stroke-width="0.22">0</text>
<path d="M396.2 424.98H399.6" stroke="#000" stroke-width="1.8"/>
<text x="394.2" y="428.59" font-size="10.045" font-weight="bold" font-family='"Liberation Sans", sans-serif' text-anchor="end" fill="#000" textLength="30.9" lengthAdjust="spacingAndGlyphs" stroke="#000" stroke-width="0.22">100000</text>
<path d="M396.2 388.45H399.6" stroke="#000" stroke-width="1.8"/>
<text x="394.2" y="392.07" font-size="10.045" font-weight="bold" font-family='"Liberation Sans", sans-serif' text-anchor="end" fill="#000" textLength="30.9" lengthAdjust="spacingAndGlyphs" stroke="#000" stroke-width="0.22">200000</text>
<path d="M396.2 351.92H399.6" stroke="#000" stroke-width="1.8"/>
<text x="394.2" y="355.54" font-size="10.045" font-weight="bold" font-family='"Liberation Sans", sans-serif' text-anchor="end" fill="#000" textLength="30.9" lengthAdjust="spacingAndGlyphs" stroke="#000" stroke-width="0.22">300000</text>
<path d="M396.2 315.4H399.6" stroke="#000" stroke-width="1.8"/>
<text x="394.2" y="319.02" font-size="10.045" font-weight="bold" font-family='"Liberation Sans", sans-serif' text-anchor="end" fill="#000" textLength="30.9" lengthAdjust="spacingAndGlyphs" stroke="#000" stroke-width="0.22">400000</text>
<path d="M414.9 478H560.9" stroke="#000" stroke-width="1.8" fill="none"/>
<path d="M415.8 478V481" stroke="#000" stroke-width="1.8"/>
<path d="M436.4 478V481" stroke="#000" stroke-width="1.8"/>
<path d="M457 478V481" stroke="#000" stroke-width="1.8"/>
<path d="M477.6 478V481" stroke="#000" stroke-width="1.8"/>
<path d="M498.2 478V481" stroke="#000" stroke-width="1.8"/>
<path d="M518.8 478V481" stroke="#000" stroke-width="1.8"/>
<path d="M539.4 478V481" stroke="#000" stroke-width="1.8"/>
<path d="M560 478V481" stroke="#000" stroke-width="1.8"/>
<text x="415.8" y="492.1" font-size="9.8" font-weight="bold" font-family='"Liberation Sans", sans-serif' text-anchor="middle" fill="#000" textLength="4.9" lengthAdjust="spacingAndGlyphs" stroke="#000" stroke-width="0.22">0</text>
<text x="426.1" y="492.4" font-size="9.5325" font-weight="bold" font-family='"Liberation Sans", sans-serif' text-anchor="start" fill="#000" textLength="11.07" lengthAdjust="spacingAndGlyphs" stroke="#000" stroke-width="0.22">10</text>
<text x="437.47" y="488" font-size="6.764999999999999" font-weight="bold" font-family='"Liberation Sans", sans-serif' text-anchor="start" fill="#000" textLength="9.22" lengthAdjust="spacingAndGlyphs" stroke="#000" stroke-width="0.22">-12</text>
<text x="446.7" y="492.4" font-size="9.5325" font-weight="bold" font-family='"Liberation Sans", sans-serif' text-anchor="start" fill="#000" textLength="11.07" lengthAdjust="spacingAndGlyphs" stroke="#000" stroke-width="0.22">10</text>
<text x="458.07" y="488" font-size="6.764999999999999" font-weight="bold" font-family='"Liberation Sans", sans-serif' text-anchor="start" fill="#000" textLength="9.22" lengthAdjust="spacingAndGlyphs" stroke="#000" stroke-width="0.22">-11</text>
<text x="467.3" y="492.4" font-size="9.5325" font-weight="bold" font-family='"Liberation Sans", sans-serif' text-anchor="start" fill="#000" textLength="11.07" lengthAdjust="spacingAndGlyphs" stroke="#000" stroke-width="0.22">10</text>
<text x="478.67" y="488" font-size="6.764999999999999" font-weight="bold" font-family='"Liberation Sans", sans-serif' text-anchor="start" fill="#000" textLength="9.22" lengthAdjust="spacingAndGlyphs" stroke="#000" stroke-width="0.22">-10</text>
<text x="489.44" y="492.4" font-size="9.5325" font-weight="bold" font-family='"Liberation Sans", sans-serif' text-anchor="start" fill="#000" textLength="11.07" lengthAdjust="spacingAndGlyphs" stroke="#000" stroke-width="0.22">10</text>
<text x="500.81" y="488" font-size="6.764999999999999" font-weight="bold" font-family='"Liberation Sans", sans-serif' text-anchor="start" fill="#000" textLength="6.15" lengthAdjust="spacingAndGlyphs" stroke="#000" stroke-width="0.22">-9</text>
<text x="510.04" y="492.4" font-size="9.5325" font-weight="bold" font-family='"Liberation Sans", sans-serif' text-anchor="start" fill="#000" textLength="11.07" lengthAdjust="spacingAndGlyphs" stroke="#000" stroke-width="0.22">10</text>
<text x="521.41" y="488" font-size="6.764999999999999" font-weight="bold" font-family='"Liberation Sans", sans-serif' text-anchor="start" fill="#000" textLength="6.15" lengthAdjust="spacingAndGlyphs" stroke="#000" stroke-width="0.22">-8</text>
<text x="530.64" y="492.4" font-size="9.5325" font-weight="bold" font-family='"Liberation Sans", sans-serif' text-anchor="start" fill="#000" textLength="11.07" lengthAdjust="spacingAndGlyphs" stroke="#000" stroke-width="0.22">10</text>
<text x="542.01" y="488" font-size="6.764999999999999" font-weight="bold" font-family='"Liberation Sans", sans-serif' text-anchor="start" fill="#000" textLength="6.15" lengthAdjust="spacingAndGlyphs" stroke="#000" stroke-width="0.22">-7</text>
<text x="551.24" y="492.4" font-size="9.5325" font-weight="bold" font-family='"Liberation Sans", sans-serif' text-anchor="start" fill="#000" textLength="11.07" lengthAdjust="spacingAndGlyphs" stroke="#000" stroke-width="0.22">10</text>
<text x="562.61" y="488" font-size="6.764999999999999" font-weight="bold" font-family='"Liberation Sans", sans-serif' text-anchor="start" fill="#000" textLength="6.15" lengthAdjust="spacingAndGlyphs" stroke="#000" stroke-width="0.22">-6</text>
<text x="433.1" y="307.2" font-size="14.0" font-weight="bold" font-family='"Liberation Sans", sans-serif' text-anchor="start" fill="#000" textLength="72.5" lengthAdjust="spacingAndGlyphs" stroke="#000" stroke-width="0.22">MCF7-LTED</text>
<text x="505.4" y="300.9" font-size="9.0" font-weight="bold" font-family='"Liberation Sans", sans-serif' text-anchor="start" fill="#000" textLength="27.7" lengthAdjust="spacingAndGlyphs" font-style="italic" stroke="#000" stroke-width="0.22">Y537C</text>
<text transform="translate(359.5 388.1) rotate(-90)" x="0" y="0" font-size="12.4" font-weight="bold" font-family='"Liberation Sans", sans-serif' text-anchor="middle" textLength="88.6" lengthAdjust="spacingAndGlyphs">Luminescence</text>
<text x="439" y="510.2" font-size="11.4" font-weight="bold" font-family='"Liberation Sans", sans-serif' text-anchor="start" fill="#000" textLength="98.4" lengthAdjust="spacingAndGlyphs" stroke="#000" stroke-width="0.22">Elacestrant (mol/L)</text>
<path d="M525.8 341.9H539.6" stroke="#0a30fa" stroke-width="1.6"/>
<circle cx="532.7" cy="341.9" r="2.4" fill="#0a30fa"/>
<text x="545.8" y="345.4" font-size="9.839999999999998" font-weight="normal" font-family='"Liberation Sans", sans-serif' text-anchor="start" fill="#000" textLength="11.42" lengthAdjust="spacingAndGlyphs">EL</text>
<path d="M525.8 354.5H539.6" stroke="#d7260a" stroke-width="1.6"/>
<rect x="530.5" y="352.3" width="4.4" height="4.4" fill="#d7260a"/>
<text x="545.8" y="358" font-size="9.839999999999998" font-weight="normal" font-family='"Liberation Sans", sans-serif' text-anchor="start" fill="#000" textLength="67.9" lengthAdjust="spacingAndGlyphs">EL + PICTILISIB</text>
<path d="M415.8 410.75 L417 410.75 L418.2 410.75 L419.41 410.75 L420.61 410.76 L421.81 410.76 L423.01 410.76 L424.21 410.76 L425.41 410.76 L426.62 410.76 L427.82 410.77 L429.02 410.77 L430.22 410.77 L431.42 410.78 L432.62 410.78 L433.82 410.78 L435.03 410.79 L436.23 410.79 L437.43 410.8 L438.63 410.81 L439.83 410.82 L441.04 410.83 L442.24 410.84 L443.44 410.85 L444.64 410.87 L445.84 410.88 L447.04 410.9 L448.25 410.92 L449.45 410.95 L450.65 410.98 L451.85 411.01 L453.05 411.04 L454.25 411.09 L455.46 411.13 L456.66 411.19 L457.86 411.25 L459.06 411.32 L460.26 411.39 L461.46 411.48 L462.67 411.58 L463.87 411.7 L465.07 411.83 L466.27 411.98 L467.47 412.14 L468.67 412.33 L469.88 412.54 L471.08 412.78 L472.28 413.05 L473.48 413.35 L474.68 413.69 L475.88 414.07 L477.09 414.49 L478.29 414.96 L479.49 415.47 L480.69 416.04 L481.89 416.67 L483.09 417.35 L484.3 418.09 L485.5 418.89 L486.7 419.75 L487.9 420.65 L489.1 421.61 L490.3 422.6 L491.51 423.63 L492.71 424.67 L493.91 425.71 L495.11 426.75 L496.31 427.75 L497.51 428.71 L498.72 429.61 L499.92 430.44 L501.12 431.18 L502.32 431.83 L503.52 432.39 L504.72 432.85 L505.93 433.23 L507.13 433.53 L508.33 433.76 L509.53 433.93 L510.73 434.06 L511.93 434.15 L513.13 434.21 L514.34 434.25 L515.54 434.27 L516.74 434.29 L517.94 434.3 L519.14 434.31 L520.35 434.31 L521.55 434.31 L522.75 434.32 L523.95 434.32 L525.15 434.32 L526.35 434.32 L527.56 434.32 L528.76 434.32 L529.96 434.32 L531.16 434.32 L532.36 434.32 L533.56 434.32 L534.76 434.32 L535.97 434.32 L537.17 434.32 L538.37 434.32 L539.57 434.32 L540.77 434.32 L541.98 434.32 L543.18 434.32 L544.38 434.32 L545.58 434.32 L546.78 434.32 L547.98 434.32 L549.18 434.32 L550.39 434.32 L551.59 434.32 L552.79 434.32 L553.99 434.32 L555.19 434.32 L556.39 434.32 L557.6 434.32 L558.8 434.32 L560 434.32" fill="none" stroke="#d7260a" stroke-width="1.9"/>
<path d="M415.8 406.5V411 M414 406.5h3.6 M414 411h3.6" stroke="#d7260a" stroke-width="1.1" fill="none"/>
<path d="M457 409.5V413.5 M455.2 409.5h3.6 M455.2 413.5h3.6" stroke="#d7260a" stroke-width="1.1" fill="none"/>
<rect x="413.6" y="406.5" width="4.4" height="4.4" fill="#d7260a"/>
<rect x="434.2" y="408.2" width="4.4" height="4.4" fill="#d7260a"/>
<rect x="454.8" y="409.3" width="4.4" height="4.4" fill="#d7260a"/>
<rect x="475.4" y="415.2" width="4.4" height="4.4" fill="#d7260a"/>
<rect x="496" y="426.2" width="4.4" height="4.4" fill="#d7260a"/>
<rect x="516.6" y="429.7" width="4.4" height="4.4" fill="#d7260a"/>
<rect x="537.2" y="432.7" width="4.4" height="4.4" fill="#d7260a"/>
<rect x="557.8" y="433.4" width="4.4" height="4.4" fill="#d7260a"/>
<path d="M415.8 331.02 L417 331.03 L418.2 331.03 L419.41 331.03 L420.61 331.03 L421.81 331.04 L423.01 331.04 L424.21 331.05 L425.41 331.05 L426.62 331.06 L427.82 331.07 L429.02 331.07 L430.22 331.08 L431.42 331.09 L432.62 331.11 L433.82 331.12 L435.03 331.13 L436.23 331.15 L437.43 331.17 L438.63 331.19 L439.83 331.22 L441.04 331.24 L442.24 331.28 L443.44 331.31 L444.64 331.35 L445.84 331.4 L447.04 331.45 L448.25 331.51 L449.45 331.58 L450.65 331.65 L451.85 331.74 L453.05 331.84 L454.25 331.95 L455.46 332.07 L456.66 332.21 L457.86 332.37 L459.06 332.56 L460.26 332.76 L461.46 332.99 L462.67 333.25 L463.87 333.55 L465.07 333.88 L466.27 334.26 L467.47 334.68 L468.67 335.16 L469.88 335.69 L471.08 336.3 L472.28 336.97 L473.48 337.73 L474.68 338.58 L475.88 339.53 L477.09 340.58 L478.29 341.76 L479.49 343.06 L480.69 344.5 L481.89 346.1 L483.09 347.85 L484.3 349.76 L485.5 351.85 L486.7 354.11 L487.9 356.54 L489.1 359.15 L490.3 361.92 L491.51 364.84 L492.71 367.89 L493.91 371.04 L495.11 374.26 L496.31 377.5 L497.51 380.73 L498.72 383.9 L499.92 386.94 L501.12 389.81 L502.32 392.47 L503.52 394.87 L504.72 396.99 L505.93 398.81 L507.13 400.32 L508.33 401.55 L509.53 402.51 L510.73 403.23 L511.93 403.76 L513.13 404.13 L514.34 404.38 L515.54 404.54 L516.74 404.63 L517.94 404.69 L519.14 404.73 L520.35 404.75 L521.55 404.75 L522.75 404.76 L523.95 404.76 L525.15 404.76 L526.35 404.76 L527.56 404.76 L528.76 404.76 L529.96 404.76 L531.16 404.76 L532.36 404.76 L533.56 404.76 L534.76 404.76 L535.97 404.76 L537.17 404.76 L538.37 404.76 L539.57 404.76 L540.77 404.76 L541.98 404.76 L543.18 404.76 L544.38 404.76 L545.58 404.76 L546.78 404.76 L547.98 404.76 L549.18 404.76 L550.39 404.76 L551.59 404.76 L552.79 404.76 L553.99 404.76 L555.19 404.76 L556.39 404.76 L557.6 404.76 L558.8 404.76 L560 404.76" fill="none" stroke="#0a30fa" stroke-width="1.9"/>
<path d="M415.8 320.5V335.2 M414 320.5h3.6 M414 335.2h3.6" stroke="#0a30fa" stroke-width="1.1" fill="none"/>
<path d="M436.4 323.5V336.2 M434.6 323.5h3.6 M434.6 336.2h3.6" stroke="#0a30fa" stroke-width="1.1" fill="none"/>
<path d="M457 330.6V345 M455.2 330.6h3.6 M455.2 345h3.6" stroke="#0a30fa" stroke-width="1.1" fill="none"/>
<path d="M477.6 333.8V348.5 M475.8 333.8h3.6 M475.8 348.5h3.6" stroke="#0a30fa" stroke-width="1.1" fill="none"/>
<path d="M498.2 376.6V386.6 M496.4 376.6h3.6 M496.4 386.6h3.6" stroke="#0a30fa" stroke-width="1.1" fill="none"/>
<path d="M518.8 401.5V406 M517 401.5h3.6 M517 406h3.6" stroke="#0a30fa" stroke-width="1.1" fill="none"/>
<path d="M539.4 401.5V406 M537.6 401.5h3.6 M537.6 406h3.6" stroke="#0a30fa" stroke-width="1.1" fill="none"/>
<path d="M560 399.9V407.6 M558.2 399.9h3.6 M558.2 407.6h3.6" stroke="#0a30fa" stroke-width="1.1" fill="none"/>
<circle cx="415.8" cy="328.2" r="2.3" fill="#0a30fa"/>
<circle cx="436.4" cy="329.9" r="2.3" fill="#0a30fa"/>
<circle cx="457" cy="337.6" r="2.3" fill="#0a30fa"/>
<circle cx="477.6" cy="340.8" r="2.3" fill="#0a30fa"/>
<circle cx="498.2" cy="381.2" r="2.3" fill="#0a30fa"/>
<circle cx="518.8" cy="403.9" r="2.3" fill="#0a30fa"/>
<circle cx="539.4" cy="403.9" r="2.3" fill="#0a30fa"/>
<circle cx="560" cy="403.9" r="2.3" fill="#0a30fa"/>
<path d="M79.4 580.3V705.3" stroke="#222" stroke-width="1.4" fill="none"/>
<path d="M74.1 704.6H79.4" stroke="#222" stroke-width="1.4"/>
<text x="73.1" y="707.95" font-size="9.3" font-weight="bold" font-family='"Liberation Sans", sans-serif' text-anchor="end" fill="#000" textLength="4.95" lengthAdjust="spacingAndGlyphs" stroke="#000" stroke-width="0.22">0</text>
<path d="M74.1 679.88H79.4" stroke="#222" stroke-width="1.4"/>
<text x="73.1" y="683.23" font-size="9.3" font-weight="bold" font-family='"Liberation Sans", sans-serif' text-anchor="end" fill="#000" textLength="29.7" lengthAdjust="spacingAndGlyphs" stroke="#000" stroke-width="0.22">100000</text>
<path d="M74.1 655.16H79.4" stroke="#222" stroke-width="1.4"/>
<text x="73.1" y="658.51" font-size="9.3" font-weight="bold" font-family='"Liberation Sans", sans-serif' text-anchor="end" fill="#000" textLength="29.7" lengthAdjust="spacingAndGlyphs" stroke="#000" stroke-width="0.22">200000</text>
<path d="M74.1 630.44H79.4" stroke="#222" stroke-width="1.4"/>
<text x="73.1" y="633.79" font-size="9.3" font-weight="bold" font-family='"Liberation Sans", sans-serif' text-anchor="end" fill="#000" textLength="29.7" lengthAdjust="spacingAndGlyphs" stroke="#000" stroke-width="0.22">300000</text>
<path d="M74.1 605.72H79.4" stroke="#222" stroke-width="1.4"/>
<text x="73.1" y="609.07" font-size="9.3" font-weight="bold" font-family='"Liberation Sans", sans-serif' text-anchor="end" fill="#000" textLength="29.7" lengthAdjust="spacingAndGlyphs" stroke="#000" stroke-width="0.22">400000</text>
<path d="M74.1 581H79.4" stroke="#222" stroke-width="1.4"/>
<text x="73.1" y="584.35" font-size="9.3" font-weight="bold" font-family='"Liberation Sans", sans-serif' text-anchor="end" fill="#000" textLength="29.7" lengthAdjust="spacingAndGlyphs" stroke="#000" stroke-width="0.22">500000</text>
<path d="M94.65 721H220.05" stroke="#3a3a3a" stroke-width="1.5" fill="none"/>
<path d="M95.4 721V725.8" stroke="#111" stroke-width="1.5"/>
<path d="M113.1 721V725.8" stroke="#111" stroke-width="1.5"/>
<path d="M130.8 721V725.8" stroke="#111" stroke-width="1.5"/>
<path d="M148.5 721V725.8" stroke="#111" stroke-width="1.5"/>
<path d="M166.2 721V725.8" stroke="#111" stroke-width="1.5"/>
<path d="M183.9 721V725.8" stroke="#111" stroke-width="1.5"/>
<path d="M201.6 721V725.8" stroke="#111" stroke-width="1.5"/>
<path d="M219.3 721V725.8" stroke="#111" stroke-width="1.5"/>
<text x="95.4" y="734.5" font-size="8.6" font-weight="bold" font-family='"Liberation Sans", sans-serif' text-anchor="middle" fill="#000" textLength="4" lengthAdjust="spacingAndGlyphs" stroke="#000" stroke-width="0.22">0</text>
<text x="104.38" y="735.6" font-size="8.3" font-weight="bold" font-family='"Liberation Sans", sans-serif' text-anchor="start" fill="#000" textLength="8.3" lengthAdjust="spacingAndGlyphs" stroke="#000" stroke-width="0.22">10</text>
<text x="112.97" y="732.6" font-size="6.5" font-weight="bold" font-family='"Liberation Sans", sans-serif' text-anchor="start" fill="#000" textLength="8.85" lengthAdjust="spacingAndGlyphs" stroke="#000" stroke-width="0.22">-12</text>
<text x="122.08" y="735.6" font-size="8.3" font-weight="bold" font-family='"Liberation Sans", sans-serif' text-anchor="start" fill="#000" textLength="8.3" lengthAdjust="spacingAndGlyphs" stroke="#000" stroke-width="0.22">10</text>
<text x="130.68" y="732.6" font-size="6.5" font-weight="bold" font-family='"Liberation Sans", sans-serif' text-anchor="start" fill="#000" textLength="8.85" lengthAdjust="spacingAndGlyphs" stroke="#000" stroke-width="0.22">-11</text>
<text x="139.78" y="735.6" font-size="8.3" font-weight="bold" font-family='"Liberation Sans", sans-serif' text-anchor="start" fill="#000" textLength="8.3" lengthAdjust="spacingAndGlyphs" stroke="#000" stroke-width="0.22">10</text>
<text x="148.38" y="732.6" font-size="6.5" font-weight="bold" font-family='"Liberation Sans", sans-serif' text-anchor="start" fill="#000" textLength="8.85" lengthAdjust="spacingAndGlyphs" stroke="#000" stroke-width="0.22">-10</text>
<text x="158.95" y="735.6" font-size="8.3" font-weight="bold" font-family='"Liberation Sans", sans-serif' text-anchor="start" fill="#000" textLength="8.3" lengthAdjust="spacingAndGlyphs" stroke="#000" stroke-width="0.22">10</text>
<text x="167.55" y="732.6" font-size="6.5" font-weight="bold" font-family='"Liberation Sans", sans-serif' text-anchor="start" fill="#000" textLength="5.9" lengthAdjust="spacingAndGlyphs" stroke="#000" stroke-width="0.22">-9</text>
<text x="176.65" y="735.6" font-size="8.3" font-weight="bold" font-family='"Liberation Sans", sans-serif' text-anchor="start" fill="#000" textLength="8.3" lengthAdjust="spacingAndGlyphs" stroke="#000" stroke-width="0.22">10</text>
<text x="185.25" y="732.6" font-size="6.5" font-weight="bold" font-family='"Liberation Sans", sans-serif' text-anchor="start" fill="#000" textLength="5.9" lengthAdjust="spacingAndGlyphs" stroke="#000" stroke-width="0.22">-8</text>
<text x="194.35" y="735.6" font-size="8.3" font-weight="bold" font-family='"Liberation Sans", sans-serif' text-anchor="start" fill="#000" textLength="8.3" lengthAdjust="spacingAndGlyphs" stroke="#000" stroke-width="0.22">10</text>
<text x="202.95" y="732.6" font-size="6.5" font-weight="bold" font-family='"Liberation Sans", sans-serif' text-anchor="start" fill="#000" textLength="5.9" lengthAdjust="spacingAndGlyphs" stroke="#000" stroke-width="0.22">-7</text>
<text x="212.05" y="735.6" font-size="8.3" font-weight="bold" font-family='"Liberation Sans", sans-serif' text-anchor="start" fill="#000" textLength="8.3" lengthAdjust="spacingAndGlyphs" stroke="#000" stroke-width="0.22">10</text>
<text x="220.65" y="732.6" font-size="6.5" font-weight="bold" font-family='"Liberation Sans", sans-serif' text-anchor="start" fill="#000" textLength="5.9" lengthAdjust="spacingAndGlyphs" stroke="#000" stroke-width="0.22">-6</text>
<text x="105.7" y="559.9" font-size="13.2" font-weight="bold" font-family='"Liberation Sans", sans-serif' text-anchor="start" fill="#000" textLength="72" lengthAdjust="spacingAndGlyphs" stroke="#000" stroke-width="0.22">MCF7-LTED</text>
<text x="178.6" y="555" font-size="9.3" font-weight="bold" font-family='"Liberation Sans", sans-serif' text-anchor="start" fill="#000" textLength="33.2" lengthAdjust="spacingAndGlyphs" stroke="#000" stroke-width="0.22">PalboR</text>
<text transform="translate(37.4 642.75) rotate(-90)" x="0" y="0" font-size="11.2" font-weight="bold" font-family='"Liberation Sans", sans-serif' text-anchor="middle" textLength="78.1" lengthAdjust="spacingAndGlyphs">Luminescence</text>
<text x="107.3" y="752" font-size="12.0" font-weight="bold" font-family='"Liberation Sans", sans-serif' text-anchor="start" fill="#000" textLength="100.6" lengthAdjust="spacingAndGlyphs" stroke="#000" stroke-width="0.22">Elacestrant (mol/L)</text>
<path d="M95.4 607.89 L96.43 607.89 L97.47 607.89 L98.5 607.9 L99.53 607.9 L100.56 607.9 L101.59 607.9 L102.63 607.9 L103.66 607.9 L104.69 607.9 L105.73 607.9 L106.76 607.91 L107.79 607.91 L108.82 607.91 L109.86 607.91 L110.89 607.92 L111.92 607.92 L112.95 607.93 L113.99 607.93 L115.02 607.94 L116.05 607.95 L117.08 607.96 L118.12 607.97 L119.15 607.98 L120.18 607.99 L121.21 608.01 L122.24 608.03 L123.28 608.05 L124.31 608.08 L125.34 608.11 L126.38 608.14 L127.41 608.18 L128.44 608.23 L129.47 608.28 L130.51 608.34 L131.54 608.41 L132.57 608.5 L133.6 608.59 L134.63 608.7 L135.67 608.83 L136.7 608.97 L137.73 609.14 L138.76 609.34 L139.8 609.56 L140.83 609.81 L141.86 610.11 L142.9 610.44 L143.93 610.82 L144.96 611.26 L145.99 611.75 L147.02 612.31 L148.06 612.93 L149.09 613.63 L150.12 614.42 L151.16 615.29 L152.19 616.25 L153.22 617.31 L154.25 618.46 L155.28 619.71 L156.32 621.04 L157.35 622.47 L158.38 623.97 L159.42 625.55 L160.45 627.18 L161.48 628.85 L162.51 630.55 L163.55 632.27 L164.58 633.97 L165.61 635.66 L166.64 637.31 L167.67 638.91 L168.71 640.46 L169.74 641.93 L170.77 643.33 L171.81 644.65 L172.84 645.88 L173.87 647.03 L174.9 648.1 L175.94 649.08 L176.97 649.99 L178 650.82 L179.03 651.57 L180.06 652.26 L181.1 652.89 L182.13 653.45 L183.16 653.96 L184.19 654.43 L185.23 654.85 L186.26 655.22 L187.29 655.56 L188.32 655.86 L189.36 656.14 L190.39 656.38 L191.42 656.6 L192.45 656.8 L193.49 656.98 L194.52 657.13 L195.55 657.27 L196.59 657.4 L197.62 657.51 L198.65 657.62 L199.68 657.71 L200.72 657.79 L201.75 657.86 L202.78 657.93 L203.81 657.98 L204.84 658.04 L205.88 658.08 L206.91 658.12 L207.94 658.16 L208.98 658.19 L210.01 658.22 L211.04 658.25 L212.07 658.27 L213.11 658.29 L214.14 658.31 L215.17 658.33 L216.2 658.34 L217.24 658.36 L218.27 658.37 L219.3 658.38" fill="none" stroke="#0a30f5" stroke-width="2.2"/>
<path d="M113.1 603.3V612.7 M111.7 603.3h2.8 M111.7 612.7h2.8" stroke="#0a30f5" stroke-width="0.9" fill="none"/>
<path d="M130.8 603.2V610.3 M129.4 603.2h2.8 M129.4 610.3h2.8" stroke="#0a30f5" stroke-width="0.9" fill="none"/>
<path d="M148.5 608.2V617.4 M147.1 608.2h2.8 M147.1 617.4h2.8" stroke="#0a30f5" stroke-width="0.9" fill="none"/>
<path d="M166.2 631.3V640.8 M164.8 631.3h2.8 M164.8 640.8h2.8" stroke="#0a30f5" stroke-width="0.9" fill="none"/>
<path d="M183.9 649.3V657.3 M182.5 649.3h2.8 M182.5 657.3h2.8" stroke="#0a30f5" stroke-width="0.9" fill="none"/>
<path d="M201.6 655.5V660.5 M200.2 655.5h2.8 M200.2 660.5h2.8" stroke="#0a30f5" stroke-width="0.9" fill="none"/>
<circle cx="95.4" cy="609.6" r="2.0" fill="none" stroke="#0a30f5" stroke-width="1.1"/>
<circle cx="113.1" cy="608.1" r="2.3" fill="#0a30f5"/>
<circle cx="130.8" cy="606.8" r="2.0" fill="none" stroke="#0a30f5" stroke-width="1.1"/>
<circle cx="148.5" cy="612.4" r="2.3" fill="#0a30f5"/>
<circle cx="166.2" cy="635.8" r="2.0" fill="none" stroke="#0a30f5" stroke-width="1.1"/>
<circle cx="183.9" cy="653.6" r="2.0" fill="none" stroke="#0a30f5" stroke-width="1.1"/>
<circle cx="201.6" cy="657.7" r="2.0" fill="none" stroke="#0a30f5" stroke-width="1.1"/>
<circle cx="219.3" cy="657.5" r="2.0" fill="none" stroke="#0a30f5" stroke-width="1.1"/>
</svg>
</body></html>
